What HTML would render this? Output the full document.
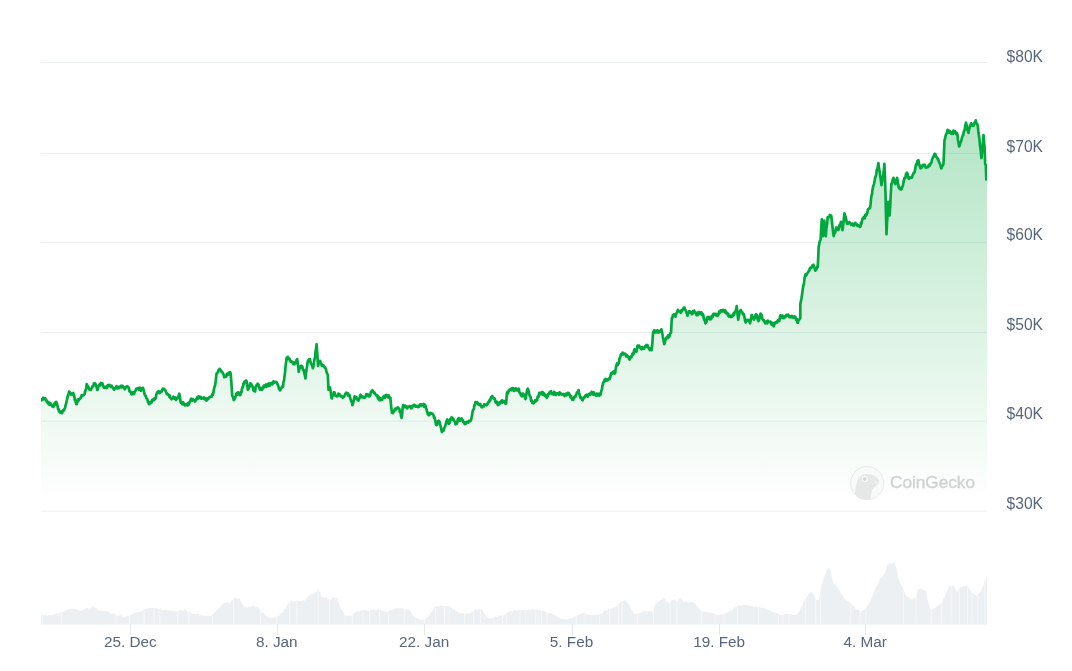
<!DOCTYPE html>
<html><head><meta charset="utf-8">
<style>
html,body{margin:0;padding:0;background:#fff;}
body{width:1072px;height:671px;overflow:hidden;position:relative;}
svg{position:absolute;left:0;top:0;}
text{font-family:"Liberation Sans",sans-serif;}
</style></head><body>
<svg width="1072" height="671" viewBox="0 0 1072 671">
<defs>
<linearGradient id="g" x1="0" y1="120" x2="0" y2="503" gradientUnits="userSpaceOnUse">
<stop offset="0" stop-color="#00a83e" stop-opacity="0.3"/>
<stop offset="1" stop-color="#00a83e" stop-opacity="0.0"/>
</linearGradient>
</defs>
<rect width="1072" height="671" fill="#fff"/>
<rect x="41" y="62" width="946" height="1" fill="#eceff2"/>
<rect x="41" y="153" width="946" height="1" fill="#eceff2"/>
<rect x="41" y="242" width="946" height="1" fill="#eceff2"/>
<rect x="41" y="332" width="946" height="1" fill="#eceff2"/>
<rect x="41" y="420.7" width="946" height="1" fill="#eceff2"/>
<rect x="41" y="510.6" width="946" height="1" fill="#eceff2"/>
<clipPath id="vc"><path d="M41,624 L41.2,614.5 L42.2,614.6 L43.2,614.9 L44.2,615.6 L45.2,615 L46.2,615.3 L47.2,615.4 L48.3,615.4 L49.3,614.6 L50.4,615 L51.5,615.1 L52.6,615.2 L53.6,614 L54.7,614.5 L55.8,613.8 L56.9,613.1 L58.1,613.9 L59.2,613.3 L60.3,612.6 L61.4,611.3 L62.5,612.3 L63.7,611.7 L64.8,610.7 L65.9,609.9 L67,609.9 L68,609.1 L69.1,608.7 L70.1,609.4 L71.2,608.5 L72.2,608.5 L73.3,608.9 L74.4,608.8 L75.4,608.7 L76.5,609.7 L77.6,609.9 L78.7,610.8 L79.7,610.6 L80.8,610.8 L81.9,610.5 L83,609.7 L84.2,609.4 L85.3,608.5 L86.4,608 L87.5,607.5 L88.5,608.5 L89.6,608.4 L90.6,608 L91.7,607.7 L92.7,606.9 L93.8,607.1 L94.9,607.4 L96,608.2 L97.2,608.6 L98.3,610.5 L99.4,610.8 L100.5,610.6 L101.6,611.4 L102.8,610.6 L103.9,611.5 L105,610.8 L106.1,611.8 L107.1,610.8 L108.2,611.5 L109.3,613.1 L110.4,612.8 L111.4,614 L112.5,613.6 L113.7,614 L115,614.1 L116.2,615.4 L117.3,615.7 L118.3,616.1 L119.4,615.5 L120.5,615.3 L121.6,615.8 L122.6,617 L123.7,616.4 L124.8,616.8 L125.9,615.8 L127.1,616 L128.2,615.8 L129.3,616.4 L130.5,614.8 L131.8,615 L133,613.6 L134.1,612.8 L135.1,613.2 L136.2,612.7 L137.3,612 L138.4,612.6 L139.4,611.4 L140.5,611.7 L141.6,611.4 L142.6,610 L143.7,610 L144.7,609.1 L145.8,608.7 L146.8,609.3 L147.9,608 L149,608.5 L150,607.7 L151.1,608.6 L152.2,607.5 L153.3,607.8 L154.3,608.6 L155.4,608 L156.5,608.5 L157.5,607.9 L158.6,609.6 L159.7,608.6 L160.8,609 L161.8,610.1 L162.9,609.9 L164,609.8 L165,609.8 L166.1,609.6 L167.1,609.8 L168.2,610.7 L169.2,610.3 L170.3,610.8 L171.4,611 L172.4,610.6 L173.5,610.7 L174.6,611.5 L175.7,610.8 L176.7,610.9 L177.8,610.8 L178.9,611.3 L179.9,610 L181,609.9 L182.1,610.9 L183.2,610.7 L184.2,609.6 L185.3,609.9 L186.4,609.9 L187.5,611.4 L188.7,612.2 L189.8,611.6 L190.9,612.6 L192,613.7 L193.1,614 L194.2,613.9 L195.3,614 L196.4,614.5 L197.5,614 L198.5,614 L199.6,615.6 L200.7,614.6 L201.8,615.5 L202.8,614.9 L203.9,615.4 L205,616.1 L206,615.8 L207.1,615.5 L208.2,615.5 L209.3,616.5 L210.3,615.6 L211.4,616.4 L212.6,614.4 L213.9,613.4 L215.1,611.7 L216.2,611.1 L217.3,609.6 L218.5,608 L219.6,607.9 L220.7,606.1 L221.9,604.7 L223.1,603.5 L224.2,603 L225.4,602.4 L226.6,602.6 L227.7,602.3 L228.8,602.8 L230,603.6 L231.2,601.5 L232.5,600 L233.7,598 L234.8,597.4 L235.9,597.8 L237.1,598.6 L238.2,598.8 L239.3,598 L240.6,600.7 L241.8,603.2 L243.1,605.4 L244.3,606.5 L245.6,606.7 L246.8,608.2 L247.9,606.9 L249,606.3 L250.2,607.2 L251.3,606.3 L252.4,605.4 L253.5,606.5 L254.6,605.4 L255.8,606.8 L256.9,606.9 L258,607.3 L259.1,609.1 L260.3,609.8 L261.5,612.3 L262.6,612.9 L263.8,613.1 L265,614.8 L266.1,616.1 L267.3,616.6 L268.4,617.4 L269.5,617.4 L270.7,617.5 L271.8,617.9 L272.9,617.6 L274,617.9 L275.1,616.6 L276.3,616.8 L277.4,616.7 L278.5,615.7 L279.6,615.2 L280.7,613.3 L281.9,612.8 L283,611.8 L284.1,610.1 L285.2,608.4 L286.3,606.6 L287.5,604.3 L288.6,602.8 L289.7,600.8 L290.8,601 L291.8,600.1 L292.9,601 L294,601.6 L295.1,601.4 L296.1,601.2 L297.2,600.8 L298.3,600.6 L299.3,601.2 L300.4,600.9 L301.4,600.7 L302.5,601.3 L303.5,600.1 L304.6,600.8 L305.8,599.8 L307,597.2 L308.1,596.8 L309.3,595.2 L310.4,594.8 L311.5,594 L312.7,594.4 L313.8,593.7 L314.9,593.3 L316.1,591.9 L317.4,590.9 L318.6,588.7 L320,592.5 L321.4,597 L322.5,596.4 L323.6,597.1 L324.8,597.9 L325.9,597.3 L327,598 L328.4,598.9 L329.8,600.8 L331.2,599.5 L332.6,597 L333.8,597.5 L335,597.4 L336.1,598.4 L337.3,598 L338.5,601.5 L339.8,605.7 L341,609.2 L342.2,610.6 L343.5,612.8 L344.7,614.8 L345.8,615.4 L346.9,615.8 L348,615.9 L349.1,615.2 L350.2,615.7 L351.3,615.7 L352.4,614.5 L353.5,613.2 L354.7,612.9 L355.8,612.5 L356.9,611 L358,611.4 L359.1,611 L360.3,611.2 L361.4,609.9 L362.5,610.1 L363.6,609.8 L364.7,610.4 L365.9,610.3 L367,610.4 L368.1,611 L369.2,610.5 L370.3,610.5 L371.5,609.9 L372.6,609.3 L373.7,609.2 L374.8,609.9 L375.9,610.3 L377.1,609.7 L378.2,609.2 L379.3,610.1 L380.4,609.6 L381.4,611.2 L382.5,610.2 L383.5,611.5 L384.6,611.6 L385.6,611.4 L386.7,612 L387.8,612.1 L388.8,610.4 L389.9,610.2 L391,610.3 L392.1,609.2 L393.1,610.1 L394.2,609.2 L395.3,608.6 L396.3,608.3 L397.4,608 L398.4,608.8 L399.5,608.4 L400.5,608.6 L401.6,608.2 L402.7,608.7 L403.7,609.2 L404.8,609.7 L405.9,609.6 L407,609.1 L408,609.8 L409.1,610.1 L410.2,611.1 L411.3,612.3 L412.5,614.6 L413.6,616.4 L414.7,617.6 L415.8,617.4 L416.9,618 L418.1,618.4 L419.2,619.4 L420.3,619.4 L421.5,619.4 L422.6,619.6 L423.8,619.8 L425,619.4 L426.1,618.1 L427.3,617.6 L428.5,616.6 L429.6,614.8 L430.7,612.5 L431.8,612.1 L433,610.1 L434.1,607.5 L435.2,606.4 L436.3,606.1 L437.4,606.2 L438.6,606.5 L439.7,605.4 L440.8,605.4 L441.8,605.6 L442.9,606.2 L443.9,606.2 L444.9,606.6 L446,605.9 L447,606.3 L448,605.7 L449.1,606.6 L450.1,606.4 L451.2,607.8 L452.3,608.5 L453.5,609.5 L454.6,609.6 L455.7,611 L456.8,612 L457.9,612.5 L459.1,612.9 L460.2,612.6 L461.3,612.9 L462.4,613.5 L463.4,612.9 L464.5,613.9 L465.6,614 L466.7,613.3 L467.7,613 L468.8,613.8 L469.9,613 L471,612.4 L472.2,612 L473.3,610.8 L474.4,610.1 L475.5,609.2 L476.5,610.3 L477.6,609 L478.6,610.1 L479.7,608.9 L480.7,609.1 L481.8,609.2 L483.1,611.8 L484.3,613 L485.6,615.7 L486.8,616.1 L488.1,617.6 L489.3,618.5 L490.4,618.5 L491.5,618.3 L492.7,617.7 L493.8,617.7 L494.9,616.6 L496,616.5 L497,617.1 L498.1,615.6 L499.2,615.6 L500.3,616 L501.3,615.5 L502.4,615.7 L503.5,615.3 L504.6,614.4 L505.8,613.5 L506.9,613.3 L508,612 L509.1,611.8 L510.1,611.2 L511.2,611 L512.2,611.5 L513.3,611.3 L514.3,609.9 L515.4,610.1 L516.4,610.7 L517.5,610.8 L518.5,610.1 L519.5,610.2 L520.6,609.6 L521.6,610.2 L522.6,610.1 L523.7,610.3 L524.7,610.1 L525.8,609.2 L526.8,610.6 L527.9,609.7 L529,609.4 L530.1,609.9 L531.1,609.4 L532.2,609.2 L533.3,609.3 L534.3,609.8 L535.4,608.9 L536.5,609.8 L537.6,609.7 L538.6,610.7 L539.7,610.1 L540.8,611 L541.8,610.3 L542.9,610.9 L543.9,610.6 L545,611.4 L546,612.2 L547.1,612 L548.2,613 L549.2,612.8 L550.3,612.9 L551.4,613.1 L552.5,614.2 L553.5,615.1 L554.6,614.8 L555.7,614.9 L556.8,616.7 L558,616.3 L559.1,617.3 L560.2,618.5 L561.3,618.2 L562.4,619.2 L563.6,618.8 L564.7,619 L565.8,619.4 L566.9,619.4 L568,618.4 L569.2,619.2 L570.3,618.1 L571.4,618.5 L572.5,618 L573.6,617 L574.8,616.3 L575.9,616.3 L577,615.7 L578.1,615 L579.2,614.4 L580.4,613.9 L581.5,613.5 L582.6,612.9 L583.7,612.7 L584.8,613.2 L586,614.3 L587.1,614.6 L588.2,614.8 L589.3,614.8 L590.3,615.4 L591.4,615 L592.4,615.4 L593.5,614.4 L594.5,615.2 L595.6,614.8 L596.7,615.1 L597.8,615 L599,613.9 L600.1,613.7 L601.2,613.8 L602.5,613.2 L603.7,610.9 L605,610.1 L606.1,610.7 L607.2,610.4 L608.4,609 L609.5,609 L610.6,609.2 L611.7,609 L612.8,607.7 L614,606.9 L615.1,607.5 L616.2,606.4 L617.5,605.1 L618.7,604.5 L620,602.9 L621.2,601.6 L622.4,601.3 L623.5,601.1 L624.7,600.1 L625.9,600.5 L627,602 L628.1,603.9 L629.3,604.8 L630.5,607.8 L631.6,610.2 L632.8,611.2 L634,614.1 L635.2,613.9 L636.4,614.1 L637.5,613.4 L638.7,613.2 L639.8,613.1 L640.9,611.9 L642.1,611.4 L643.2,611 L644.3,611.3 L645.4,610.6 L646.5,611.4 L647.7,611.3 L648.8,611.4 L649.9,611.3 L651.2,611.2 L652.6,612.2 L654,607.5 L655.4,603.8 L656.6,602.4 L657.8,602.5 L658.9,601.8 L660.1,600.1 L661.3,600.1 L662.6,598.2 L663.8,598.2 L665,598.7 L666.1,601.3 L667.3,601.7 L668.5,602.9 L669.6,602.6 L670.7,601.1 L671.9,600.6 L673,600 L674.1,599.2 L675.5,600.5 L676.9,602 L678.1,600.9 L679.4,598.7 L680.6,598.2 L681.9,599.8 L683.1,601.3 L684.4,602 L685.5,601.5 L686.6,601.9 L687.8,602.4 L688.9,601.8 L690,602 L691.1,601.9 L692.2,602.2 L693.4,603.1 L694.5,602.7 L695.6,603.8 L696.8,606 L698.1,607.4 L699.3,608.5 L700.5,609.8 L701.8,610.9 L703,611.3 L704.1,611.7 L705.2,611.4 L706.3,611.9 L707.4,611.9 L708.5,612.8 L709.6,612.2 L710.8,612.9 L711.9,612.3 L713.1,613.6 L714.2,613.2 L715.5,614.2 L716.7,614.8 L718,615 L719.1,615.2 L720.2,614.2 L721.2,614.7 L722.3,614.4 L723.4,613.8 L724.5,613.2 L725.6,613.2 L726.6,612.8 L727.7,611.8 L728.7,612 L729.8,610.5 L730.8,610.5 L731.9,610.4 L733,609.4 L734.1,607.7 L735.3,607.3 L736.4,606.9 L737.5,605.7 L738.6,605.8 L739.6,605 L740.7,606 L741.8,605.5 L742.9,604.8 L743.9,605.2 L745,604.8 L746.1,605 L747.1,605.1 L748.2,605 L749.3,606.1 L750.4,605.7 L751.4,605.9 L752.5,605.7 L753.6,606.4 L754.6,607 L755.7,605.8 L756.7,607 L757.8,607.4 L758.8,606.9 L759.9,607.6 L761,607.7 L762,607.4 L763.1,607.9 L764.2,608.4 L765.3,608.2 L766.3,608.7 L767.4,609.4 L768.5,610.4 L769.5,610.3 L770.6,610.6 L771.7,611.7 L772.8,611.5 L773.8,612.6 L774.9,612.2 L776,613 L777.1,613.8 L778.2,613.2 L779.3,614.6 L780.4,615 L781.5,615.3 L782.5,614 L783.6,615.3 L784.7,613.9 L785.8,614.3 L786.8,613.7 L787.9,614.1 L789,614.2 L790,614.5 L791.1,613.8 L792.2,615.3 L793.3,614.6 L794.3,614.9 L795.4,615 L796.6,614.2 L797.9,612.9 L799.1,612.2 L800.3,609.1 L801.6,606.8 L802.8,603.8 L804.1,601.7 L805.3,599.1 L806.6,597.3 L807.8,595.8 L809.1,593.2 L810.3,591.7 L811.5,591.8 L812.7,593.4 L813.9,595.4 L815,597.4 L816.2,600.5 L817.5,599.5 L818.9,599.6 L820.2,592.9 L821.5,585.4 L822.9,580.8 L824.2,576.6 L825.4,574.3 L826.5,571.1 L827.7,567.7 L829,568.3 L830.4,570.4 L831.7,576.9 L833,581.9 L834.2,584.1 L835.4,584.2 L836.6,586.3 L837.7,588.5 L838.7,589.4 L839.8,591.1 L840.8,593.5 L841.9,594.3 L843.1,595.7 L844.2,597.9 L845.4,599.6 L846.5,600.8 L847.6,601 L848.6,601.2 L849.7,602.5 L850.8,602.3 L851.9,604.4 L853,605.6 L854.1,606.3 L855.2,608.5 L856.3,609.4 L857.3,609.8 L858.4,610.1 L859.4,610.6 L860.5,612 L861.6,611.4 L862.7,610.1 L863.8,610 L864.9,609.4 L866,608.1 L867.1,606.1 L868.1,604.2 L869.2,603.1 L870.3,601.4 L871.4,598.4 L872.4,596.2 L873.5,592.9 L874.5,590.8 L875.6,587.2 L876.7,586 L877.7,583.7 L878.8,581 L879.8,578.8 L880.9,577.5 L882,576.8 L883.1,575.3 L884.2,573.7 L885.3,572.2 L886.6,567.5 L888,563.3 L889.2,563.2 L890.3,564.2 L891.5,564.2 L892.9,563 L894.2,561.5 L895.5,565.6 L896.8,569.5 L898.6,579.2 L899.8,581.8 L901,584.3 L902.2,586.3 L903.4,588.8 L904.5,591.8 L905.7,595.2 L906.9,596.6 L908.1,597.1 L909.3,597 L910.6,598.9 L911.9,599.6 L913.1,598.3 L914.3,597.8 L915.5,597.9 L916.8,593.1 L918.1,589 L919.3,588.9 L920.5,589.2 L921.7,589 L922.8,589 L923.9,590.4 L925,590.3 L926.1,591.7 L927.9,601.4 L929.2,605.2 L930.5,610.3 L931.6,610 L932.6,609.3 L933.7,608.9 L934.7,607.9 L935.8,607.6 L936.9,606.7 L938,605.4 L939,604.7 L940.1,604.5 L941.2,603.2 L942.4,601.7 L943.5,598.4 L944.7,597 L945.8,593.7 L946.9,592.1 L948,589.2 L949.1,586.3 L950.2,586.5 L951.4,585.4 L952.5,585.5 L953.6,585.4 L954.8,587.1 L955.9,590.1 L957.1,591.7 L958.5,589.2 L959.8,587.2 L960.9,587.2 L962,587.5 L963.1,586.2 L964.2,586.3 L965.4,586.1 L966.5,586.1 L967.7,585.4 L968.9,588.4 L970.1,590 L971.3,592.5 L972.4,593 L973.4,593.3 L974.5,595.3 L975.5,594.7 L976.6,596.1 L977.8,594.2 L979,593.8 L980.2,592.5 L981.4,589.8 L982.5,587.5 L983.7,584.6 L984.8,581 L985.8,578.5 L986.9,574.8 L987,624 Z"/></clipPath>
<path d="M41,624 L41.2,614.5 L42.2,614.6 L43.2,614.9 L44.2,615.6 L45.2,615 L46.2,615.3 L47.2,615.4 L48.3,615.4 L49.3,614.6 L50.4,615 L51.5,615.1 L52.6,615.2 L53.6,614 L54.7,614.5 L55.8,613.8 L56.9,613.1 L58.1,613.9 L59.2,613.3 L60.3,612.6 L61.4,611.3 L62.5,612.3 L63.7,611.7 L64.8,610.7 L65.9,609.9 L67,609.9 L68,609.1 L69.1,608.7 L70.1,609.4 L71.2,608.5 L72.2,608.5 L73.3,608.9 L74.4,608.8 L75.4,608.7 L76.5,609.7 L77.6,609.9 L78.7,610.8 L79.7,610.6 L80.8,610.8 L81.9,610.5 L83,609.7 L84.2,609.4 L85.3,608.5 L86.4,608 L87.5,607.5 L88.5,608.5 L89.6,608.4 L90.6,608 L91.7,607.7 L92.7,606.9 L93.8,607.1 L94.9,607.4 L96,608.2 L97.2,608.6 L98.3,610.5 L99.4,610.8 L100.5,610.6 L101.6,611.4 L102.8,610.6 L103.9,611.5 L105,610.8 L106.1,611.8 L107.1,610.8 L108.2,611.5 L109.3,613.1 L110.4,612.8 L111.4,614 L112.5,613.6 L113.7,614 L115,614.1 L116.2,615.4 L117.3,615.7 L118.3,616.1 L119.4,615.5 L120.5,615.3 L121.6,615.8 L122.6,617 L123.7,616.4 L124.8,616.8 L125.9,615.8 L127.1,616 L128.2,615.8 L129.3,616.4 L130.5,614.8 L131.8,615 L133,613.6 L134.1,612.8 L135.1,613.2 L136.2,612.7 L137.3,612 L138.4,612.6 L139.4,611.4 L140.5,611.7 L141.6,611.4 L142.6,610 L143.7,610 L144.7,609.1 L145.8,608.7 L146.8,609.3 L147.9,608 L149,608.5 L150,607.7 L151.1,608.6 L152.2,607.5 L153.3,607.8 L154.3,608.6 L155.4,608 L156.5,608.5 L157.5,607.9 L158.6,609.6 L159.7,608.6 L160.8,609 L161.8,610.1 L162.9,609.9 L164,609.8 L165,609.8 L166.1,609.6 L167.1,609.8 L168.2,610.7 L169.2,610.3 L170.3,610.8 L171.4,611 L172.4,610.6 L173.5,610.7 L174.6,611.5 L175.7,610.8 L176.7,610.9 L177.8,610.8 L178.9,611.3 L179.9,610 L181,609.9 L182.1,610.9 L183.2,610.7 L184.2,609.6 L185.3,609.9 L186.4,609.9 L187.5,611.4 L188.7,612.2 L189.8,611.6 L190.9,612.6 L192,613.7 L193.1,614 L194.2,613.9 L195.3,614 L196.4,614.5 L197.5,614 L198.5,614 L199.6,615.6 L200.7,614.6 L201.8,615.5 L202.8,614.9 L203.9,615.4 L205,616.1 L206,615.8 L207.1,615.5 L208.2,615.5 L209.3,616.5 L210.3,615.6 L211.4,616.4 L212.6,614.4 L213.9,613.4 L215.1,611.7 L216.2,611.1 L217.3,609.6 L218.5,608 L219.6,607.9 L220.7,606.1 L221.9,604.7 L223.1,603.5 L224.2,603 L225.4,602.4 L226.6,602.6 L227.7,602.3 L228.8,602.8 L230,603.6 L231.2,601.5 L232.5,600 L233.7,598 L234.8,597.4 L235.9,597.8 L237.1,598.6 L238.2,598.8 L239.3,598 L240.6,600.7 L241.8,603.2 L243.1,605.4 L244.3,606.5 L245.6,606.7 L246.8,608.2 L247.9,606.9 L249,606.3 L250.2,607.2 L251.3,606.3 L252.4,605.4 L253.5,606.5 L254.6,605.4 L255.8,606.8 L256.9,606.9 L258,607.3 L259.1,609.1 L260.3,609.8 L261.5,612.3 L262.6,612.9 L263.8,613.1 L265,614.8 L266.1,616.1 L267.3,616.6 L268.4,617.4 L269.5,617.4 L270.7,617.5 L271.8,617.9 L272.9,617.6 L274,617.9 L275.1,616.6 L276.3,616.8 L277.4,616.7 L278.5,615.7 L279.6,615.2 L280.7,613.3 L281.9,612.8 L283,611.8 L284.1,610.1 L285.2,608.4 L286.3,606.6 L287.5,604.3 L288.6,602.8 L289.7,600.8 L290.8,601 L291.8,600.1 L292.9,601 L294,601.6 L295.1,601.4 L296.1,601.2 L297.2,600.8 L298.3,600.6 L299.3,601.2 L300.4,600.9 L301.4,600.7 L302.5,601.3 L303.5,600.1 L304.6,600.8 L305.8,599.8 L307,597.2 L308.1,596.8 L309.3,595.2 L310.4,594.8 L311.5,594 L312.7,594.4 L313.8,593.7 L314.9,593.3 L316.1,591.9 L317.4,590.9 L318.6,588.7 L320,592.5 L321.4,597 L322.5,596.4 L323.6,597.1 L324.8,597.9 L325.9,597.3 L327,598 L328.4,598.9 L329.8,600.8 L331.2,599.5 L332.6,597 L333.8,597.5 L335,597.4 L336.1,598.4 L337.3,598 L338.5,601.5 L339.8,605.7 L341,609.2 L342.2,610.6 L343.5,612.8 L344.7,614.8 L345.8,615.4 L346.9,615.8 L348,615.9 L349.1,615.2 L350.2,615.7 L351.3,615.7 L352.4,614.5 L353.5,613.2 L354.7,612.9 L355.8,612.5 L356.9,611 L358,611.4 L359.1,611 L360.3,611.2 L361.4,609.9 L362.5,610.1 L363.6,609.8 L364.7,610.4 L365.9,610.3 L367,610.4 L368.1,611 L369.2,610.5 L370.3,610.5 L371.5,609.9 L372.6,609.3 L373.7,609.2 L374.8,609.9 L375.9,610.3 L377.1,609.7 L378.2,609.2 L379.3,610.1 L380.4,609.6 L381.4,611.2 L382.5,610.2 L383.5,611.5 L384.6,611.6 L385.6,611.4 L386.7,612 L387.8,612.1 L388.8,610.4 L389.9,610.2 L391,610.3 L392.1,609.2 L393.1,610.1 L394.2,609.2 L395.3,608.6 L396.3,608.3 L397.4,608 L398.4,608.8 L399.5,608.4 L400.5,608.6 L401.6,608.2 L402.7,608.7 L403.7,609.2 L404.8,609.7 L405.9,609.6 L407,609.1 L408,609.8 L409.1,610.1 L410.2,611.1 L411.3,612.3 L412.5,614.6 L413.6,616.4 L414.7,617.6 L415.8,617.4 L416.9,618 L418.1,618.4 L419.2,619.4 L420.3,619.4 L421.5,619.4 L422.6,619.6 L423.8,619.8 L425,619.4 L426.1,618.1 L427.3,617.6 L428.5,616.6 L429.6,614.8 L430.7,612.5 L431.8,612.1 L433,610.1 L434.1,607.5 L435.2,606.4 L436.3,606.1 L437.4,606.2 L438.6,606.5 L439.7,605.4 L440.8,605.4 L441.8,605.6 L442.9,606.2 L443.9,606.2 L444.9,606.6 L446,605.9 L447,606.3 L448,605.7 L449.1,606.6 L450.1,606.4 L451.2,607.8 L452.3,608.5 L453.5,609.5 L454.6,609.6 L455.7,611 L456.8,612 L457.9,612.5 L459.1,612.9 L460.2,612.6 L461.3,612.9 L462.4,613.5 L463.4,612.9 L464.5,613.9 L465.6,614 L466.7,613.3 L467.7,613 L468.8,613.8 L469.9,613 L471,612.4 L472.2,612 L473.3,610.8 L474.4,610.1 L475.5,609.2 L476.5,610.3 L477.6,609 L478.6,610.1 L479.7,608.9 L480.7,609.1 L481.8,609.2 L483.1,611.8 L484.3,613 L485.6,615.7 L486.8,616.1 L488.1,617.6 L489.3,618.5 L490.4,618.5 L491.5,618.3 L492.7,617.7 L493.8,617.7 L494.9,616.6 L496,616.5 L497,617.1 L498.1,615.6 L499.2,615.6 L500.3,616 L501.3,615.5 L502.4,615.7 L503.5,615.3 L504.6,614.4 L505.8,613.5 L506.9,613.3 L508,612 L509.1,611.8 L510.1,611.2 L511.2,611 L512.2,611.5 L513.3,611.3 L514.3,609.9 L515.4,610.1 L516.4,610.7 L517.5,610.8 L518.5,610.1 L519.5,610.2 L520.6,609.6 L521.6,610.2 L522.6,610.1 L523.7,610.3 L524.7,610.1 L525.8,609.2 L526.8,610.6 L527.9,609.7 L529,609.4 L530.1,609.9 L531.1,609.4 L532.2,609.2 L533.3,609.3 L534.3,609.8 L535.4,608.9 L536.5,609.8 L537.6,609.7 L538.6,610.7 L539.7,610.1 L540.8,611 L541.8,610.3 L542.9,610.9 L543.9,610.6 L545,611.4 L546,612.2 L547.1,612 L548.2,613 L549.2,612.8 L550.3,612.9 L551.4,613.1 L552.5,614.2 L553.5,615.1 L554.6,614.8 L555.7,614.9 L556.8,616.7 L558,616.3 L559.1,617.3 L560.2,618.5 L561.3,618.2 L562.4,619.2 L563.6,618.8 L564.7,619 L565.8,619.4 L566.9,619.4 L568,618.4 L569.2,619.2 L570.3,618.1 L571.4,618.5 L572.5,618 L573.6,617 L574.8,616.3 L575.9,616.3 L577,615.7 L578.1,615 L579.2,614.4 L580.4,613.9 L581.5,613.5 L582.6,612.9 L583.7,612.7 L584.8,613.2 L586,614.3 L587.1,614.6 L588.2,614.8 L589.3,614.8 L590.3,615.4 L591.4,615 L592.4,615.4 L593.5,614.4 L594.5,615.2 L595.6,614.8 L596.7,615.1 L597.8,615 L599,613.9 L600.1,613.7 L601.2,613.8 L602.5,613.2 L603.7,610.9 L605,610.1 L606.1,610.7 L607.2,610.4 L608.4,609 L609.5,609 L610.6,609.2 L611.7,609 L612.8,607.7 L614,606.9 L615.1,607.5 L616.2,606.4 L617.5,605.1 L618.7,604.5 L620,602.9 L621.2,601.6 L622.4,601.3 L623.5,601.1 L624.7,600.1 L625.9,600.5 L627,602 L628.1,603.9 L629.3,604.8 L630.5,607.8 L631.6,610.2 L632.8,611.2 L634,614.1 L635.2,613.9 L636.4,614.1 L637.5,613.4 L638.7,613.2 L639.8,613.1 L640.9,611.9 L642.1,611.4 L643.2,611 L644.3,611.3 L645.4,610.6 L646.5,611.4 L647.7,611.3 L648.8,611.4 L649.9,611.3 L651.2,611.2 L652.6,612.2 L654,607.5 L655.4,603.8 L656.6,602.4 L657.8,602.5 L658.9,601.8 L660.1,600.1 L661.3,600.1 L662.6,598.2 L663.8,598.2 L665,598.7 L666.1,601.3 L667.3,601.7 L668.5,602.9 L669.6,602.6 L670.7,601.1 L671.9,600.6 L673,600 L674.1,599.2 L675.5,600.5 L676.9,602 L678.1,600.9 L679.4,598.7 L680.6,598.2 L681.9,599.8 L683.1,601.3 L684.4,602 L685.5,601.5 L686.6,601.9 L687.8,602.4 L688.9,601.8 L690,602 L691.1,601.9 L692.2,602.2 L693.4,603.1 L694.5,602.7 L695.6,603.8 L696.8,606 L698.1,607.4 L699.3,608.5 L700.5,609.8 L701.8,610.9 L703,611.3 L704.1,611.7 L705.2,611.4 L706.3,611.9 L707.4,611.9 L708.5,612.8 L709.6,612.2 L710.8,612.9 L711.9,612.3 L713.1,613.6 L714.2,613.2 L715.5,614.2 L716.7,614.8 L718,615 L719.1,615.2 L720.2,614.2 L721.2,614.7 L722.3,614.4 L723.4,613.8 L724.5,613.2 L725.6,613.2 L726.6,612.8 L727.7,611.8 L728.7,612 L729.8,610.5 L730.8,610.5 L731.9,610.4 L733,609.4 L734.1,607.7 L735.3,607.3 L736.4,606.9 L737.5,605.7 L738.6,605.8 L739.6,605 L740.7,606 L741.8,605.5 L742.9,604.8 L743.9,605.2 L745,604.8 L746.1,605 L747.1,605.1 L748.2,605 L749.3,606.1 L750.4,605.7 L751.4,605.9 L752.5,605.7 L753.6,606.4 L754.6,607 L755.7,605.8 L756.7,607 L757.8,607.4 L758.8,606.9 L759.9,607.6 L761,607.7 L762,607.4 L763.1,607.9 L764.2,608.4 L765.3,608.2 L766.3,608.7 L767.4,609.4 L768.5,610.4 L769.5,610.3 L770.6,610.6 L771.7,611.7 L772.8,611.5 L773.8,612.6 L774.9,612.2 L776,613 L777.1,613.8 L778.2,613.2 L779.3,614.6 L780.4,615 L781.5,615.3 L782.5,614 L783.6,615.3 L784.7,613.9 L785.8,614.3 L786.8,613.7 L787.9,614.1 L789,614.2 L790,614.5 L791.1,613.8 L792.2,615.3 L793.3,614.6 L794.3,614.9 L795.4,615 L796.6,614.2 L797.9,612.9 L799.1,612.2 L800.3,609.1 L801.6,606.8 L802.8,603.8 L804.1,601.7 L805.3,599.1 L806.6,597.3 L807.8,595.8 L809.1,593.2 L810.3,591.7 L811.5,591.8 L812.7,593.4 L813.9,595.4 L815,597.4 L816.2,600.5 L817.5,599.5 L818.9,599.6 L820.2,592.9 L821.5,585.4 L822.9,580.8 L824.2,576.6 L825.4,574.3 L826.5,571.1 L827.7,567.7 L829,568.3 L830.4,570.4 L831.7,576.9 L833,581.9 L834.2,584.1 L835.4,584.2 L836.6,586.3 L837.7,588.5 L838.7,589.4 L839.8,591.1 L840.8,593.5 L841.9,594.3 L843.1,595.7 L844.2,597.9 L845.4,599.6 L846.5,600.8 L847.6,601 L848.6,601.2 L849.7,602.5 L850.8,602.3 L851.9,604.4 L853,605.6 L854.1,606.3 L855.2,608.5 L856.3,609.4 L857.3,609.8 L858.4,610.1 L859.4,610.6 L860.5,612 L861.6,611.4 L862.7,610.1 L863.8,610 L864.9,609.4 L866,608.1 L867.1,606.1 L868.1,604.2 L869.2,603.1 L870.3,601.4 L871.4,598.4 L872.4,596.2 L873.5,592.9 L874.5,590.8 L875.6,587.2 L876.7,586 L877.7,583.7 L878.8,581 L879.8,578.8 L880.9,577.5 L882,576.8 L883.1,575.3 L884.2,573.7 L885.3,572.2 L886.6,567.5 L888,563.3 L889.2,563.2 L890.3,564.2 L891.5,564.2 L892.9,563 L894.2,561.5 L895.5,565.6 L896.8,569.5 L898.6,579.2 L899.8,581.8 L901,584.3 L902.2,586.3 L903.4,588.8 L904.5,591.8 L905.7,595.2 L906.9,596.6 L908.1,597.1 L909.3,597 L910.6,598.9 L911.9,599.6 L913.1,598.3 L914.3,597.8 L915.5,597.9 L916.8,593.1 L918.1,589 L919.3,588.9 L920.5,589.2 L921.7,589 L922.8,589 L923.9,590.4 L925,590.3 L926.1,591.7 L927.9,601.4 L929.2,605.2 L930.5,610.3 L931.6,610 L932.6,609.3 L933.7,608.9 L934.7,607.9 L935.8,607.6 L936.9,606.7 L938,605.4 L939,604.7 L940.1,604.5 L941.2,603.2 L942.4,601.7 L943.5,598.4 L944.7,597 L945.8,593.7 L946.9,592.1 L948,589.2 L949.1,586.3 L950.2,586.5 L951.4,585.4 L952.5,585.5 L953.6,585.4 L954.8,587.1 L955.9,590.1 L957.1,591.7 L958.5,589.2 L959.8,587.2 L960.9,587.2 L962,587.5 L963.1,586.2 L964.2,586.3 L965.4,586.1 L966.5,586.1 L967.7,585.4 L968.9,588.4 L970.1,590 L971.3,592.5 L972.4,593 L973.4,593.3 L974.5,595.3 L975.5,594.7 L976.6,596.1 L977.8,594.2 L979,593.8 L980.2,592.5 L981.4,589.8 L982.5,587.5 L983.7,584.6 L984.8,581 L985.8,578.5 L986.9,574.8 L987,624 Z" fill="#edf0f3"/>
<g clip-path="url(#vc)"><rect x="42.3" y="550" width="0.8" height="74" fill="#fff" opacity="0.55"/><rect x="60.9" y="550" width="0.8" height="74" fill="#fff" opacity="0.55"/><rect x="115.7" y="550" width="0.8" height="74" fill="#fff" opacity="0.55"/><rect x="129.1" y="550" width="0.8" height="74" fill="#fff" opacity="0.55"/><rect x="143.7" y="550" width="0.8" height="74" fill="#fff" opacity="0.55"/><rect x="153.8" y="550" width="0.8" height="74" fill="#fff" opacity="0.55"/><rect x="159.4" y="550" width="0.8" height="74" fill="#fff" opacity="0.55"/><rect x="177.3" y="550" width="0.8" height="74" fill="#fff" opacity="0.55"/><rect x="188.5" y="550" width="0.8" height="74" fill="#fff" opacity="0.55"/><rect x="212.0" y="550" width="0.8" height="74" fill="#fff" opacity="0.55"/><rect x="233.2" y="550" width="0.8" height="74" fill="#fff" opacity="0.55"/><rect x="260.1" y="550" width="0.8" height="74" fill="#fff" opacity="0.55"/><rect x="276.3" y="550" width="0.8" height="74" fill="#fff" opacity="0.55"/><rect x="289.3" y="550" width="0.8" height="74" fill="#fff" opacity="0.55"/><rect x="296.5" y="550" width="0.8" height="74" fill="#fff" opacity="0.55"/><rect x="317.7" y="550" width="0.8" height="74" fill="#fff" opacity="0.55"/><rect x="328.9" y="550" width="0.8" height="74" fill="#fff" opacity="0.55"/><rect x="344.6" y="550" width="0.8" height="74" fill="#fff" opacity="0.55"/><rect x="352.4" y="550" width="0.8" height="74" fill="#fff" opacity="0.55"/><rect x="362.5" y="550" width="0.8" height="74" fill="#fff" opacity="0.55"/><rect x="369.2" y="550" width="0.8" height="74" fill="#fff" opacity="0.55"/><rect x="379.3" y="550" width="0.8" height="74" fill="#fff" opacity="0.55"/><rect x="388.2" y="550" width="0.8" height="74" fill="#fff" opacity="0.55"/><rect x="403.9" y="550" width="0.8" height="74" fill="#fff" opacity="0.55"/><rect x="415.1" y="550" width="0.8" height="74" fill="#fff" opacity="0.55"/><rect x="424.1" y="550" width="0.8" height="74" fill="#fff" opacity="0.55"/><rect x="435.3" y="550" width="0.8" height="74" fill="#fff" opacity="0.55"/><rect x="444.2" y="550" width="0.8" height="74" fill="#fff" opacity="0.55"/><rect x="448.7" y="550" width="0.8" height="74" fill="#fff" opacity="0.55"/><rect x="464.4" y="550" width="0.8" height="74" fill="#fff" opacity="0.55"/><rect x="473.3" y="550" width="0.8" height="74" fill="#fff" opacity="0.55"/><rect x="480.0" y="550" width="0.8" height="74" fill="#fff" opacity="0.55"/><rect x="493.5" y="550" width="0.8" height="74" fill="#fff" opacity="0.55"/><rect x="502.4" y="550" width="0.8" height="74" fill="#fff" opacity="0.55"/><rect x="506.3" y="550" width="0.8" height="74" fill="#fff" opacity="0.55"/><rect x="519.7" y="550" width="0.8" height="74" fill="#fff" opacity="0.55"/><rect x="525.3" y="550" width="0.8" height="74" fill="#fff" opacity="0.55"/><rect x="535.4" y="550" width="0.8" height="74" fill="#fff" opacity="0.55"/><rect x="541.0" y="550" width="0.8" height="74" fill="#fff" opacity="0.55"/><rect x="546.6" y="550" width="0.8" height="74" fill="#fff" opacity="0.55"/><rect x="575.7" y="550" width="0.8" height="74" fill="#fff" opacity="0.55"/><rect x="584.7" y="550" width="0.8" height="74" fill="#fff" opacity="0.55"/><rect x="599.2" y="550" width="0.8" height="74" fill="#fff" opacity="0.55"/><rect x="609.3" y="550" width="0.8" height="74" fill="#fff" opacity="0.55"/><rect x="618.2" y="550" width="0.8" height="74" fill="#fff" opacity="0.55"/><rect x="621.6" y="550" width="0.8" height="74" fill="#fff" opacity="0.55"/><rect x="637.3" y="550" width="0.8" height="74" fill="#fff" opacity="0.55"/><rect x="653.0" y="550" width="0.8" height="74" fill="#fff" opacity="0.55"/><rect x="669.7" y="550" width="0.8" height="74" fill="#fff" opacity="0.55"/><rect x="676.5" y="550" width="0.8" height="74" fill="#fff" opacity="0.55"/><rect x="701.1" y="550" width="0.8" height="74" fill="#fff" opacity="0.55"/><rect x="714.5" y="550" width="0.8" height="74" fill="#fff" opacity="0.55"/><rect x="723.5" y="550" width="0.8" height="74" fill="#fff" opacity="0.55"/><rect x="736.9" y="550" width="0.8" height="74" fill="#fff" opacity="0.55"/><rect x="758.3" y="550" width="0.8" height="74" fill="#fff" opacity="0.55"/><rect x="778.1" y="550" width="0.8" height="74" fill="#fff" opacity="0.55"/><rect x="782.7" y="550" width="0.8" height="74" fill="#fff" opacity="0.55"/><rect x="788.6" y="550" width="0.8" height="74" fill="#fff" opacity="0.55"/><rect x="804.9" y="550" width="0.8" height="74" fill="#fff" opacity="0.55"/><rect x="815.4" y="550" width="0.8" height="74" fill="#fff" opacity="0.55"/><rect x="820.1" y="550" width="0.8" height="74" fill="#fff" opacity="0.55"/><rect x="850.4" y="550" width="0.8" height="74" fill="#fff" opacity="0.55"/><rect x="859.7" y="550" width="0.8" height="74" fill="#fff" opacity="0.55"/><rect x="865.5" y="550" width="0.8" height="74" fill="#fff" opacity="0.55"/><rect x="902.8" y="550" width="0.8" height="74" fill="#fff" opacity="0.55"/><rect x="915.7" y="550" width="0.8" height="74" fill="#fff" opacity="0.55"/><rect x="930.8" y="550" width="0.8" height="74" fill="#fff" opacity="0.55"/><rect x="941.3" y="550" width="0.8" height="74" fill="#fff" opacity="0.55"/><rect x="950.6" y="550" width="0.8" height="74" fill="#fff" opacity="0.55"/><rect x="958.8" y="550" width="0.8" height="74" fill="#fff" opacity="0.55"/><rect x="967.0" y="550" width="0.8" height="74" fill="#fff" opacity="0.55"/><rect x="971.6" y="550" width="0.8" height="74" fill="#fff" opacity="0.55"/><rect x="977.5" y="550" width="0.8" height="74" fill="#fff" opacity="0.55"/><rect x="984.5" y="550" width="0.8" height="74" fill="#fff" opacity="0.55"/></g>
<path d="M41,400.4 L41.2,400.4 L41.7,399.5 L42.2,398.6 L42.7,399.8 L43.2,397.7 L43.7,398.7 L44.2,398.2 L44.7,398.5 L45.3,398.4 L45.8,400.5 L46.3,399.8 L46.8,401.7 L47.4,401.4 L47.9,403.4 L48.4,402.3 L48.9,403.4 L49.4,404.8 L49.9,402.8 L50.4,403.2 L50.9,404.2 L51.4,404.8 L51.9,406 L52.4,405.2 L52.9,404.9 L53.4,406.9 L53.9,405.7 L54.5,403.4 L55,404.9 L55.5,402.2 L56.1,401.9 L56.6,402.4 L57.1,404 L57.6,406.2 L58.1,409.3 L58.6,409 L59.1,411.6 L59.6,412.1 L60.1,412.5 L60.6,412 L61.1,412.7 L61.6,411.5 L62.1,413.1 L62.7,410.7 L63.3,410.1 L63.9,410.5 L64.5,408.7 L65.1,407.9 L65.6,404.9 L66.2,403.3 L66.8,400.5 L67.3,398.2 L67.9,395.4 L68.5,394.6 L69.1,391.5 L69.7,393.1 L70.4,392.7 L71,394.5 L71.6,394.3 L72.2,393.8 L72.7,394.5 L73.3,393 L73.8,395.6 L74.3,396.1 L74.8,400 L75.3,399.3 L75.8,402.1 L76.3,404.2 L76.8,404.1 L77.3,401.4 L77.8,401.6 L78.3,399.4 L78.8,400.4 L79.3,399 L79.9,399 L80.5,397.7 L81,397.8 L81.6,395.4 L82.2,395.2 L82.8,395.6 L83.3,395.1 L83.9,394.9 L84.5,394.5 L85,391.7 L85.6,390.3 L86.2,388 L86.7,384 L87.3,385.2 L87.8,387.1 L88.4,386.7 L89,389.3 L89.6,389.6 L90.2,389.1 L90.7,389.9 L91.3,389.1 L91.9,387.8 L92.4,386.4 L92.9,386 L93.4,386.1 L93.9,383.4 L94.4,383.9 L94.9,383.3 L95.5,384 L96.1,385.5 L96.6,387 L97.2,390 L97.8,389.5 L98.3,386.3 L98.9,385.3 L99.4,384.8 L99.9,384.2 L100.4,385.4 L100.9,382.8 L101.4,383.6 L101.9,383.7 L102.4,383.3 L103,385.6 L103.5,386.5 L104,387.8 L104.6,387.8 L105.1,386.9 L105.6,387 L106.1,386.6 L106.6,387.9 L107.1,387.9 L107.6,385.2 L108.1,385 L108.6,385 L109.1,385.5 L109.6,385 L110.1,386.1 L110.6,386.8 L111.1,386.1 L111.6,385.7 L112.1,387.3 L112.6,387.4 L113.1,388.4 L113.6,388.5 L114.1,389.7 L114.6,388.7 L115.1,388 L115.6,388.2 L116.1,388.2 L116.6,386.2 L117.1,388.5 L117.6,388 L118.1,387 L118.6,388.1 L119.2,387.9 L119.8,386.7 L120.3,386.7 L120.8,385.8 L121.4,387.4 L122,385.7 L122.5,387 L123.1,386.3 L123.7,387.3 L124.2,387.7 L124.8,389.3 L125.3,388.4 L125.8,387.2 L126.3,386.7 L126.8,386.7 L127.3,386.2 L127.8,387 L128.3,387.7 L128.9,387.7 L129.4,391.3 L129.9,391.6 L130.4,391.3 L131,392.7 L131.5,394.5 L132,393.7 L132.5,393.3 L133,392.2 L133.5,394 L134,394.1 L134.5,392.2 L135,391.5 L135.5,390.9 L136,389.1 L136.5,388.5 L137,388.6 L137.5,388.5 L138.1,388 L138.7,389.8 L139.2,388 L139.8,387.7 L140.4,389.3 L140.9,390.7 L141.4,389.4 L141.9,388.2 L142.4,389.4 L142.9,387.9 L143.4,389.3 L143.9,390.9 L144.4,393.7 L144.9,394.8 L145.4,395.8 L145.9,396 L146.4,398.2 L146.9,398.8 L147.4,399.2 L147.9,402 L148.4,402.3 L148.9,404 L149.4,404.2 L149.9,402.9 L150.4,401.9 L150.9,402.9 L151.4,402.7 L151.9,401.5 L152.4,399.7 L152.9,400.5 L153.4,400.4 L153.9,400.1 L154.4,398.4 L154.9,399.2 L155.4,399 L155.9,396.9 L156.5,394.2 L157.1,392.5 L157.6,392.2 L158.1,391.4 L158.6,391.2 L159.1,392.4 L159.6,393.1 L160.1,391.5 L160.6,391.5 L161.2,392.1 L161.7,391.5 L162.2,390.6 L162.8,388.5 L163.3,388.6 L163.8,388.7 L164.3,389.2 L164.8,389.6 L165.3,390.1 L165.8,391.5 L166.3,392.5 L166.8,393.9 L167.3,394.4 L167.8,393.9 L168.3,395 L168.8,395.2 L169.4,396.8 L169.9,395.5 L170.4,397.9 L171,398.2 L171.5,399.3 L172,398.8 L172.5,398.6 L173,397.7 L173.5,396.7 L174,397.5 L174.5,398.6 L175,397.5 L175.5,399.2 L176,399.9 L176.5,398.4 L177,399 L177.6,397.4 L178.2,397.7 L178.7,395.7 L179.3,393.7 L180,397.2 L180.7,402.7 L181.2,401.7 L181.7,401.9 L182.2,404.3 L182.7,404.1 L183.2,402.2 L183.7,403.4 L184.2,404.7 L184.8,405.4 L185.3,404.7 L185.9,404.1 L186.4,405 L187,404 L187.5,405.4 L188,403 L188.6,404.9 L189.1,403 L189.6,401.7 L190.1,401.9 L190.7,399.5 L191.2,398.7 L191.7,400.2 L192.3,400.5 L192.8,399.1 L193.3,399.6 L193.8,400.2 L194.4,400.4 L194.9,401.6 L195.4,401.1 L196,399.4 L196.5,399.1 L197.1,397.5 L197.6,399.1 L198.2,396.7 L198.7,396.4 L199.2,396.5 L199.8,397.1 L200.3,398.3 L200.8,397 L201.3,398.7 L201.9,397.7 L202.4,397.9 L202.9,398.3 L203.5,398.6 L204,397.4 L204.5,399 L205,398.5 L205.6,398.3 L206.1,400.1 L206.6,400.6 L207.2,398.3 L207.7,398.8 L208.3,399.1 L208.8,398.2 L209.4,397.1 L209.9,397.2 L210.5,396.8 L211.1,396.4 L211.6,396.7 L212.2,394.2 L212.8,394.9 L213.4,392.7 L213.9,389.3 L214.5,387 L215.1,385.2 L215.6,382.1 L216.1,377.3 L216.6,373.3 L217.1,372.7 L217.6,372.6 L218.1,372.3 L218.6,370.1 L219.1,369.9 L219.6,368.8 L220.2,369.6 L220.8,370.3 L221.3,371.6 L221.9,371.6 L222.5,372.5 L223.1,373.7 L223.7,374.7 L224.2,377.2 L224.8,377 L225.3,377 L225.8,376.9 L226.3,376.5 L226.8,373.8 L227.3,374.1 L227.8,373.3 L228.4,374.6 L229,374.3 L229.5,372.2 L230.1,372.2 L230.7,373.3 L231.2,380.6 L231.7,387 L232.2,395.7 L232.7,396.4 L233.2,397.4 L233.7,400.1 L234.3,399.3 L234.8,398.4 L235.4,397.4 L236,394.9 L236.5,393.5 L237,394.8 L237.5,394.3 L238,392.4 L238.5,394.2 L239,392.7 L239.7,395.2 L240.4,394.9 L240.9,392.2 L241.4,392.5 L241.9,389 L242.4,387.4 L242.9,387 L243.4,383.7 L243.9,384.2 L244.4,381.7 L244.9,382 L245.4,381.7 L245.9,380.7 L246.4,380.7 L246.9,382.8 L247.4,386.2 L247.9,389.7 L248.4,389.4 L248.9,386.3 L249.4,386.9 L249.9,385.5 L250.4,383.3 L250.9,383.7 L251.4,384.3 L252,386.2 L252.5,387 L253,386.7 L253.5,390.5 L254.1,391 L254.6,391.2 L255.1,391.4 L255.6,387.5 L256.1,386.7 L256.6,384.8 L257.1,385.8 L257.6,383.7 L258.1,384 L258.6,384.6 L259.1,386.5 L259.6,388.9 L260.1,389.7 L260.6,389.7 L261.1,388.6 L261.6,387.8 L262.1,389.7 L262.6,388.3 L263.1,388.2 L263.6,386 L264.1,385.5 L264.6,387 L265.1,386 L265.6,385.6 L266.1,384.4 L266.6,386.8 L267.1,385.7 L267.6,386.1 L268.1,383.8 L268.6,385.9 L269.1,383.4 L269.6,384.5 L270.2,385.3 L270.7,383.8 L271.2,383.2 L271.8,383.5 L272.4,384.3 L272.9,382.1 L273.4,381.4 L274,382.2 L274.5,382.5 L275,381.9 L275.5,381.8 L276,382.2 L276.5,382.1 L277,383.7 L277.5,383.9 L278,385.4 L278.5,386.5 L279,388.9 L279.5,388.7 L280,390.4 L280.5,389.8 L281,388.2 L281.5,388.1 L282,386.5 L282.5,386.6 L283,386.7 L283.5,381.8 L284,380.5 L284.5,376.3 L285.1,371.8 L285.6,366 L286.1,362.2 L286.7,357.6 L287.3,359.1 L287.9,356.8 L288.4,359.2 L289,358.4 L289.6,358.9 L290.1,359.8 L290.6,361.6 L291.2,361.3 L291.7,361.3 L292.3,362 L292.8,362.8 L293.3,364.1 L293.8,362.5 L294.4,364.3 L294.9,363.6 L295.5,363.1 L296,361.8 L296.6,359.9 L297.2,359.1 L297.7,362.9 L298.2,366.2 L298.7,371.8 L299.2,369.2 L299.8,367.5 L300.3,368 L300.9,365.8 L301.4,365.8 L301.9,366.3 L302.4,366.8 L302.9,369.8 L303.4,370.7 L303.9,370.3 L304.4,373.5 L304.9,375.1 L305.4,378.5 L305.9,373.6 L306.5,369.7 L307.1,366.1 L307.6,362.1 L308.2,360.3 L308.8,360.4 L309.3,359.1 L309.9,359.1 L310.5,362.3 L311.1,364.1 L311.6,364.6 L312.2,365.5 L312.8,368.1 L313.4,366.7 L314,361.9 L314.5,359.3 L315.1,356.9 L315.6,351.2 L316.1,348.1 L316.6,344.2 L317.1,351.3 L317.6,358.6 L318.1,365.8 L318.6,363.4 L319.1,362.8 L319.6,361.3 L320.2,360.9 L320.7,362.8 L321.2,363.4 L321.8,365.8 L322.3,365.8 L322.9,365.1 L323.4,365.4 L323.9,366.5 L324.4,366.6 L325,368 L325.5,368.1 L326.1,369.9 L326.6,372.2 L327.2,373.6 L327.8,374.8 L328.5,389.7 L329,389.5 L329.5,389.2 L330,387.3 L330.5,390.5 L331,393.8 L331.5,397.8 L332,398.4 L332.5,395 L333,395.8 L333.5,394.7 L334,392 L334.5,392.5 L335.1,394.5 L335.6,395.6 L336.1,395.7 L336.7,396.3 L337.3,396.4 L337.9,396.1 L338.4,393.5 L339,394 L339.6,394.4 L340.1,394.8 L340.6,396.1 L341.2,396.4 L341.8,396.9 L342.3,396.5 L342.8,397.8 L343.4,397 L344,396.8 L344.5,396.1 L345.1,393.9 L345.7,394 L346.2,392.7 L346.8,393.1 L347.3,393.9 L347.8,393.3 L348.3,395.6 L348.9,394.9 L349.4,394.8 L349.9,396.9 L350.4,398.6 L350.9,400.5 L351.4,401.7 L351.9,402 L352.4,405.2 L352.9,403.9 L353.5,401.5 L354.1,398.5 L354.6,396.3 L355.1,397 L355.7,398 L356.2,396.9 L356.8,399.5 L357.3,398.7 L357.9,398.8 L358.4,400.7 L358.9,398.5 L359.5,398.4 L360.1,395.4 L360.6,394.8 L361.1,396 L361.6,397.2 L362.1,396.3 L362.6,396.4 L363.1,397.2 L363.6,397.8 L364.1,397.9 L364.7,397.7 L365.2,396.9 L365.7,396.5 L366.2,394.4 L366.8,394.2 L367.3,394.8 L367.9,394.4 L368.5,396.3 L369,395.3 L369.6,396.3 L370.2,395.3 L370.8,392.4 L371.3,391.4 L371.9,390.8 L372.5,390.3 L373,391.6 L373.6,392.4 L374.1,393.1 L374.7,392.6 L375.2,394.1 L375.8,394.7 L376.3,395.5 L376.9,396 L377.4,395.5 L377.9,398.4 L378.5,396.8 L379.1,399.7 L379.6,400.2 L380.1,398 L380.7,400 L381.2,399.4 L381.7,400 L382.2,399.9 L382.7,397.8 L383.2,396.8 L383.7,397 L384.2,395.9 L384.8,397.9 L385.3,395.5 L385.9,396.4 L386.4,394.9 L387,395.8 L387.5,395.5 L388.1,397.3 L388.7,395.3 L389.2,397.8 L389.8,397.4 L390.4,397.8 L390.9,403.9 L391.4,408.3 L391.9,412.7 L392.5,411.5 L393,413.1 L393.6,411.5 L394.2,411.2 L394.7,409.3 L395.2,408.7 L395.7,409.7 L396.2,409.1 L396.7,408.1 L397.2,408.2 L397.8,407.3 L398.3,408.1 L398.8,408.2 L399.4,409 L399.9,412.2 L400.5,412 L401.1,416.4 L401.6,417.9 L402.1,414.7 L402.6,408.3 L403.1,405.2 L403.6,406.7 L404.1,406.3 L404.6,407.2 L405.1,405.6 L405.6,406.1 L406.1,406.7 L406.6,406.5 L407.1,408.4 L407.6,407.2 L408.1,406.6 L408.6,406.9 L409.1,406.6 L409.6,406 L410.1,406.2 L410.6,407.5 L411.1,408.2 L411.6,406.3 L412.1,408 L412.6,405.7 L413.1,405.5 L413.6,406 L414.1,404.8 L414.6,405.1 L415.1,405.2 L415.6,406.7 L416.1,406.5 L416.6,406.4 L417.1,405.9 L417.6,406.9 L418.1,407.1 L418.6,406 L419.1,406.6 L419.6,406 L420.2,404.3 L420.7,405.9 L421.2,404.7 L421.8,404.5 L422.3,405.5 L422.9,405.4 L423.4,404.5 L423.9,404 L424.4,406.9 L425,404.7 L425.5,406 L426.1,408 L426.6,409.6 L427.2,411.5 L427.8,414.2 L428.3,414.8 L428.9,415.4 L429.4,413.1 L429.9,414.2 L430.4,413 L431,413.7 L431.5,413.4 L432,413.7 L432.5,413.7 L433,414.3 L433.5,415.1 L434,417.8 L434.5,417.2 L435,419.7 L435.5,421.3 L436,424.6 L436.5,425.2 L437,424.9 L437.5,422.6 L438,421.1 L438.5,420.6 L439,420.9 L439.6,421.9 L440.2,424.9 L440.7,426.4 L441.3,429.1 L441.9,432.1 L442.4,430.5 L442.9,430.6 L443.4,430.7 L443.9,429.4 L444.4,427.5 L444.9,426.9 L445.5,424.8 L446,423.2 L446.6,420.9 L447.2,419.4 L447.7,420.4 L448.2,421.1 L448.7,423.9 L449.3,421.9 L449.9,422.6 L450.4,418.8 L451,418.6 L451.6,417.2 L452.1,418.3 L452.6,419.8 L453.1,418.6 L453.6,419.5 L454.1,420.2 L454.6,421.4 L455.1,422.2 L455.6,424.5 L456.1,423.9 L456.7,423.8 L457.2,422.8 L457.8,419.1 L458.4,419.4 L458.9,418.1 L459.5,420.2 L460.1,420.8 L460.6,419.7 L461.1,420.1 L461.7,418.4 L462.2,419.7 L462.8,420.1 L463.3,422 L463.8,422.3 L464.3,423.1 L464.8,424.1 L465.3,422.5 L465.8,423.9 L466.3,422.2 L466.8,421.9 L467.3,422.5 L467.8,422.4 L468.3,422.7 L468.8,420.9 L469.4,421.4 L469.9,420.9 L470.4,421.1 L471,420.1 L471.6,417.4 L472.1,415.1 L472.7,410.9 L473.3,409.7 L473.9,408.7 L474.4,405.1 L474.9,405.3 L475.5,402.2 L476,403 L476.6,402.3 L477.1,402.1 L477.7,402.8 L478.2,404.3 L478.8,404.8 L479.3,404.5 L479.9,403.9 L480.5,404.4 L481,406.3 L481.6,407.1 L482.2,407.4 L482.7,406.6 L483.3,405.7 L483.8,406.4 L484.4,404.2 L484.9,404.6 L485.5,404.6 L486,404.3 L486.5,405.3 L487,404 L487.5,404.4 L488,402.8 L488.5,401.7 L489,402.1 L489.6,400 L490.1,400.9 L490.6,398.8 L491.2,396.9 L491.7,396.6 L492.2,396 L492.7,397.6 L493.2,398.4 L493.7,397.9 L494.2,398.4 L494.7,398.6 L495.3,400.8 L495.8,402.5 L496.3,401.4 L496.8,401.8 L497.4,403.7 L497.9,405.1 L498.4,404.2 L498.9,404.4 L499.4,402.3 L499.9,403.5 L500.4,402.7 L500.9,401.3 L501.4,401.3 L501.9,400.4 L502.4,402.7 L502.9,400.7 L503.4,402.3 L503.9,401.3 L504.4,401.1 L505,401.6 L505.6,403.8 L506.1,403.6 L506.9,393.1 L507.4,391.9 L508,393.4 L508.6,391.4 L509.1,390 L509.6,389.5 L510.2,389.6 L510.8,389.7 L511.3,388.7 L511.9,390.2 L512.4,388 L513,388.9 L513.5,388.5 L514.1,391 L514.7,388.7 L515.2,388.6 L515.8,390.1 L516.3,388.5 L516.8,389.3 L517.3,390.6 L517.8,390.3 L518.3,389.6 L518.8,388.7 L519.3,391.9 L519.9,393.3 L520.5,393.2 L521,395.4 L521.5,394.3 L522,396.4 L522.5,395.7 L523,393.5 L523.5,395.2 L524,394.6 L524.5,395.7 L525,397.2 L525.5,399.1 L526.1,396 L526.6,392.9 L527.2,389.8 L527.8,388.7 L528.3,389.9 L528.9,392 L529.5,395.6 L530,396.1 L530.5,396.6 L531.1,400.8 L531.7,400.2 L532.2,402.8 L532.7,402.2 L533.3,403.3 L533.8,403.1 L534.4,401.7 L534.9,400.4 L535.5,401.4 L536,401.3 L536.5,399.7 L537.1,400.2 L537.6,396.9 L538.1,396.2 L538.6,396.6 L539.2,392.9 L539.7,393.1 L540.2,392.9 L540.7,394.2 L541.2,394.2 L541.7,392.1 L542.2,392.1 L542.7,392.3 L543.2,395 L543.7,393.1 L544.2,393.9 L544.7,395.1 L545.2,396.1 L545.7,394.9 L546.2,395.2 L546.7,397.8 L547.2,396.9 L547.8,396.1 L548.3,393.9 L548.9,394.2 L549.4,392.4 L549.9,391.9 L550.5,391.9 L551,391.2 L551.5,393.6 L552,394.1 L552.6,393.4 L553.1,393.1 L553.6,394.5 L554.1,391.9 L554.6,392.6 L555.1,393.4 L555.6,394.9 L556.1,395 L556.6,393.4 L557.1,393.1 L557.6,393.9 L558.1,393.6 L558.6,393.6 L559.1,394.8 L559.6,392.4 L560.1,394.1 L560.6,393.1 L561.1,394.1 L561.6,394.6 L562.1,394.7 L562.6,394.4 L563.1,393.9 L563.6,394.1 L564.1,394.5 L564.6,396 L565.1,395.4 L565.6,393.9 L566.1,394 L566.6,395.4 L567.1,393.6 L567.6,392.8 L568.1,393.9 L568.7,392.9 L569.3,394.9 L569.8,394.7 L570.4,397.1 L571,396.1 L571.6,398.2 L572.1,399.5 L572.7,398.2 L573.3,399.9 L573.8,397.8 L574.3,396.9 L574.8,397.2 L575.3,397 L575.8,395.3 L576.3,394.6 L576.8,392.7 L577.4,392.1 L578,391.6 L578.5,390.1 L579,392.6 L579.5,394.8 L580,396.1 L580.5,398.1 L581.1,398.5 L581.7,397.8 L582.2,399.9 L582.7,400.3 L583.2,398 L583.7,398.2 L584.2,397 L584.7,397.4 L585.2,396.1 L585.7,395.1 L586.2,395.1 L586.7,395 L587.2,394.6 L587.7,396.7 L588.2,395.4 L588.7,395.1 L589.2,393.9 L589.7,393.6 L590.2,394.9 L590.7,392.9 L591.2,392.4 L591.7,391.8 L592.3,393.8 L592.8,393.5 L593.3,394.7 L593.8,392.3 L594.4,393.6 L594.9,393.9 L595.4,395.1 L595.9,395.4 L596.4,395.9 L596.9,393.5 L597.4,394.5 L597.9,395.4 L598.4,393.9 L598.9,393.7 L599.4,395.7 L599.9,394.1 L600.4,394.8 L600.9,393.1 L601.4,390.3 L601.9,389.3 L602.4,385.7 L603,384 L603.5,382 L604,382 L604.6,379.7 L605.1,381.2 L605.6,378.8 L606.1,380.3 L606.6,380.5 L607.1,379.4 L607.6,380.4 L608.2,379.7 L608.8,378.6 L609.3,378.5 L609.9,379 L610.6,375.3 L611.3,373 L611.8,373.3 L612.4,373.5 L612.9,372.1 L613.5,371.5 L614,372.5 L614.6,373.5 L615.1,373 L615.6,369.3 L616.1,367 L616.6,364.8 L617.1,363.5 L617.7,364.9 L618.2,363.8 L618.8,363.3 L619.3,359.7 L619.9,357.6 L620.5,356.2 L621,354.3 L621.5,354.3 L622,354.5 L622.5,352.7 L623,352.8 L623.5,354.3 L624,353.6 L624.5,353.7 L625,353.7 L625.5,354.1 L626,356.4 L626.5,354.9 L627,355.8 L627.5,356.5 L628,356.3 L628.5,356.9 L629,358.8 L629.5,359.6 L630,358.6 L630.5,357.5 L631,356.3 L631.5,357.2 L632,355 L632.5,353.7 L633,354.5 L633.5,354 L634,350.9 L634.5,349.4 L635,350.7 L635.6,349.9 L636.2,351.7 L636.7,350.9 L637.5,345.7 L638.1,346 L638.7,345.6 L639.2,345.6 L639.8,347.6 L640.4,347.9 L640.9,348.4 L641.5,349.4 L642,347 L642.6,348.7 L643.1,348.1 L643.7,348.6 L644.2,348.7 L644.8,346.7 L645.3,346.1 L645.9,345.9 L646.4,344.9 L647,346.9 L647.5,345.2 L648.1,347.1 L648.7,347.9 L649.3,349.3 L649.9,350.2 L650.4,348.3 L651,348.5 L651.6,350.1 L652.1,345.5 L652.6,339.6 L653.1,332.2 L653.6,331.9 L654.1,330.4 L654.6,332.7 L655.1,330.9 L655.6,332.2 L656.1,330.7 L656.6,331.3 L657.1,332.2 L657.6,330.4 L658.1,332.6 L658.6,331.1 L659.1,332.2 L659.6,331.2 L660.2,331.8 L660.8,331 L661.3,329.3 L661.8,330.8 L662.3,333.4 L662.8,336.7 L663.3,338.9 L663.8,341.8 L664.3,344.2 L664.9,342.2 L665.5,339.7 L666,338.4 L666.6,337.5 L667.1,337.9 L667.6,338.2 L668.1,335.4 L668.6,336.7 L669.1,337 L669.6,336 L670.3,333.1 L671,333 L671.8,318.1 L672.3,318.2 L672.9,315.1 L673.5,315.5 L674,314.3 L674.5,315.2 L675,316.2 L675.5,316.6 L676.1,314.3 L676.6,313 L677.2,311.8 L677.8,309.9 L678.4,310.3 L679,311.5 L679.5,311.5 L680.1,312 L680.7,312.8 L681.3,310.4 L681.9,311.3 L682.4,310 L683,309.1 L683.5,307.8 L684,308.9 L684.5,307.6 L685,309.8 L685.5,310.2 L686,310.7 L686.5,313 L687,313.3 L687.5,315.8 L688,313.6 L688.6,313.3 L689.2,311.2 L689.7,311.3 L690.2,311.9 L690.8,312.8 L691.4,312.2 L691.9,314.3 L692.5,313.8 L693,311.2 L693.6,312.2 L694.2,310.6 L694.8,312.6 L695.3,312.9 L695.9,312.6 L696.4,315.1 L696.9,314.6 L697.4,313.7 L697.9,315 L698.4,312 L698.9,313.7 L699.4,312.1 L699.9,313.9 L700.5,313.4 L701,314 L701.5,312.4 L702,315.1 L702.6,314 L703.1,314.3 L703.7,317.9 L704.2,320 L704.8,320 L705.4,323.3 L706,322.7 L706.5,321.6 L707,317.5 L707.6,317.3 L708.1,317.1 L708.6,318.6 L709.1,317 L709.6,319.5 L710.1,317.9 L710.6,318.8 L711.1,319 L711.6,316.2 L712.1,316.6 L712.6,317.1 L713.1,314.2 L713.6,314.3 L714.1,313.8 L714.6,314.8 L715.1,314.5 L715.6,313.9 L716.1,314.6 L716.6,315.8 L717.1,314.2 L717.6,315.9 L718.1,314.5 L718.6,314.5 L719.1,311.7 L719.6,312.1 L720.1,312.6 L720.7,310.3 L721.2,311.2 L721.7,311.3 L722.2,310.1 L722.8,311.3 L723.3,309.9 L723.8,310.4 L724.3,310.9 L724.8,312.1 L725.3,310.2 L725.8,313.2 L726.3,312.1 L726.8,313.1 L727.3,313 L727.8,314.8 L728.3,313.9 L728.8,316.7 L729.3,315.8 L729.9,316.2 L730.5,315.7 L731,317.1 L731.6,316.3 L732.2,316.6 L732.7,314.9 L733.2,315.8 L733.7,313 L734.2,314.6 L734.7,312.1 L735.2,312.1 L735.7,310.5 L736.2,309.6 L736.7,306.1 L737.2,310.9 L737.7,315.6 L738.2,319.6 L738.8,316.8 L739.3,313.6 L739.9,311.5 L740.4,310.6 L740.9,310 L741.4,311.9 L741.9,311.9 L742.4,312.6 L742.9,314.3 L743.4,313.6 L744,314.7 L744.5,317.2 L745.1,320.7 L745.7,322.5 L746.2,320.5 L746.8,319.9 L747.4,320.4 L747.9,320.3 L748.5,319.9 L749,321.4 L749.5,321.7 L750.1,323.3 L750.6,320.8 L751.1,318.1 L751.6,315.1 L752.2,315.3 L752.8,317.7 L753.3,318.4 L753.9,319.6 L754.5,317.2 L755,318.3 L755.5,314.9 L756.1,314.3 L756.7,314.9 L757.2,316.4 L757.8,319.7 L758.4,321 L759,320.3 L759.5,318.1 L760,315.2 L760.6,313.6 L761.1,314.4 L761.7,315.1 L762.2,318.5 L762.8,319.6 L763.3,320.3 L763.8,320.1 L764.3,321.5 L764.8,321.4 L765.3,323.3 L765.8,322.5 L766.3,323.1 L766.8,321.5 L767.3,323.4 L767.8,320.7 L768.3,322 L768.8,321.8 L769.3,321.9 L769.9,321.8 L770.5,321.6 L771,323.3 L771.6,324.7 L772.1,322.9 L772.7,325.1 L773.3,325.5 L773.8,326.2 L774.3,323.2 L774.8,322.7 L775.3,323.4 L775.8,322.4 L776.3,321.8 L776.8,322.1 L777.3,322.5 L777.8,320.4 L778.3,320.7 L778.8,320.5 L779.3,321 L780,316.6 L780.5,315.3 L781.1,318 L781.6,317.7 L782.1,317.6 L782.6,315.6 L783.2,318.2 L783.7,317.3 L784.2,317.8 L784.7,316.7 L785.2,317.3 L785.7,316.2 L786.2,315.2 L786.7,315.8 L787.2,314.7 L787.7,315.2 L788.2,314.7 L788.7,315.7 L789.2,317 L789.7,316.9 L790.2,317.4 L790.7,316.5 L791.2,317.2 L791.8,316 L792.3,316.9 L792.8,316.6 L793.4,317.8 L793.9,317 L794.4,316.3 L795,317.5 L795.5,317.2 L796.1,320 L796.7,319.1 L797.3,322.5 L797.9,322.7 L798.5,320.2 L799.1,319.8 L799.7,318.7 L800.3,318.4 L800.3,304.1 L800.9,301.3 L801.5,298.3 L802.1,294.1 L802.7,289.8 L803.3,285.7 L803.9,283.8 L804.5,278.6 L805.1,275.5 L805.7,274.1 L806.2,275.5 L806.8,274.1 L807.4,273.1 L808,272.5 L808.6,271.2 L809.2,270.9 L809.8,268.3 L810.3,267.7 L810.8,268.3 L811.3,267.3 L811.9,267.3 L812.4,265.5 L812.9,265.9 L813.4,264.7 L814,266.9 L814.7,268.1 L815.3,270.7 L815.9,268.9 L816.5,269.3 L817.1,266.7 L817.7,267.1 L818.2,258.2 L818.7,246.8 L819.3,243.4 L820,240.6 L820.6,239.7 L821.2,228.4 L821.8,219.4 L822.4,229 L823,236.1 L823.6,227.9 L824.2,220.6 L824.7,224.7 L825.3,229.5 L825.8,236.1 L826.4,228.4 L827.1,223.9 L827.7,217 L828.2,217.2 L828.7,217.2 L829.2,217.2 L829.8,215 L830.3,216.4 L830.8,215.6 L831.3,215.8 L831.9,221.8 L832.5,226.9 L833.1,232.2 L833.7,236.1 L834.3,232.7 L834.9,233 L835.5,231 L836.1,227.7 L836.7,229.6 L837.3,227.7 L837.9,228.6 L838.5,230.1 L839.1,226.9 L839.7,224.6 L840.3,224.9 L840.9,221.8 L841.4,225.5 L842,227.7 L842.5,230.1 L843.1,225.5 L843.8,219.4 L844.4,213.4 L845,215.2 L845.6,217 L846.2,219.4 L846.8,223 L847.3,223.9 L847.9,222.4 L848.4,222.9 L848.9,223.3 L849.5,222.2 L850,223.1 L850.5,223.3 L851.1,224.7 L851.6,224.2 L852.1,223.8 L852.7,223.7 L853.2,225.6 L853.7,224.2 L854.3,225.3 L854.8,224.6 L855.3,222.8 L855.9,223.9 L856.4,224.2 L856.9,224.4 L857.4,225.8 L857.9,224.9 L858.5,226.3 L859,226.2 L859.5,225.6 L860,226.8 L860.5,226.5 L861,222.8 L861.5,223.6 L862.1,220.3 L862.6,218.4 L863.1,218.5 L863.6,217.1 L864.2,218.3 L864.7,218.4 L865.2,214.9 L865.8,215.9 L866.3,215.4 L866.8,213.8 L867.3,213.1 L867.8,209.7 L868.3,209.1 L868.9,208.8 L869.4,208 L870,208.1 L870.5,204.9 L871,199 L871.5,195.5 L872,194.2 L872.5,189.7 L873.1,186.8 L873.6,185.1 L874.1,183.6 L874.6,180.9 L875.1,177.7 L875.6,176.8 L876.2,174.5 L876.7,170.1 L877.3,169.5 L877.8,166.5 L878.4,163.2 L879.1,168.8 L879.8,172.6 L880.4,177.2 L880.9,180.5 L881.5,185.1 L882,182 L882.5,179.3 L883,176.8 L883.7,171.5 L884.4,163.8 L885,177.4 L885.5,193.5 L886,215 L886.5,234.1 L887.1,221.9 L887.6,211.7 L888.2,201.8 L888.9,207.9 L889.6,215.4 L890.2,206.5 L890.7,195.2 L891.3,185.1 L891.8,182.9 L892.3,182.6 L892.9,178.8 L893.4,177.8 L893.9,179.3 L894.5,181 L895,183.3 L895.5,184.1 L896,182.8 L896.6,180.3 L897.1,177.8 L897.6,180.5 L898.1,183.5 L898.6,187.2 L899.1,186.5 L899.6,188.9 L900.2,188.7 L900.7,189.3 L901.2,188 L901.7,189.3 L902.2,187 L902.8,185.9 L903.3,183.2 L903.8,180.9 L904.3,178.4 L904.8,178 L905.3,177.9 L905.9,174.6 L906.4,173.1 L906.9,172.6 L907.4,173.6 L908,176.4 L908.5,178.4 L909,178.9 L909.5,177.6 L910.1,177.4 L910.6,177.5 L911.2,177.5 L911.7,177.8 L912.2,176.8 L912.7,174.7 L913.2,174.2 L913.7,172.7 L914.2,172.6 L914.7,171.9 L915.2,169.1 L915.8,165.1 L916.3,164.2 L916.8,164.6 L917.3,161 L917.9,160.8 L918.4,160.1 L918.9,163.6 L919.5,165.1 L920,167 L920.5,168.4 L921,167.7 L921.5,166.5 L922,167.3 L922.6,165.2 L923.1,164.9 L923.6,165.3 L924.1,165.3 L924.7,164.6 L925.2,166 L925.7,167.6 L926.3,167.6 L926.8,167.4 L927.3,167.1 L927.8,167.1 L928.3,166.2 L928.9,164.9 L929.4,166 L929.9,165.3 L930.4,163.6 L930.9,163.2 L931.5,162.3 L932,159.5 L932.5,158.5 L933,156.9 L933.5,156.9 L934,155.1 L934.6,153.8 L935.1,153.8 L935.6,155.3 L936.1,156.7 L936.7,157.2 L937.2,157.9 L937.7,159.2 L938.2,159 L938.7,161.1 L939.3,162.6 L939.8,163.6 L940.3,164.7 L940.9,167.2 L941.4,168.4 L941.9,165.9 L942.5,165.6 L943,165.3 L943.5,163.2 L944,152.4 L944.5,140.3 L945,138.9 L945.5,136.1 L946,134.8 L946.6,133.2 L947.1,131.9 L947.6,129.8 L948.1,130.1 L948.7,131.4 L949.2,132.7 L949.7,131 L950.3,132.9 L950.8,133 L951.3,133.7 L951.8,132.3 L952.3,132.4 L952.9,133.7 L953.4,130.7 L953.9,131.9 L954.4,132.2 L954.9,131.2 L955.5,133.3 L956,134 L956.5,132.9 L957,133 L957.5,135.2 L958,140 L958.6,143.2 L959.1,146.5 L959.6,145.6 L960.1,143.4 L960.7,142.2 L961.2,141.2 L961.7,138.7 L962.2,137.1 L962.7,135.3 L963.2,135.3 L963.8,131.6 L964.3,130.9 L964.9,128.7 L965.4,125 L966,122.5 L966.5,125.4 L967,125.6 L967.5,130.3 L968,130.5 L968.5,133 L969,129.6 L969.5,128.1 L970.1,126.4 L970.6,124.6 L971.1,123.3 L971.6,124.7 L972.2,124.9 L972.7,125.9 L973.2,125 L973.7,125.6 L974.2,123.6 L974.8,122.2 L975.3,122.4 L975.8,120.4 L976.3,123.3 L976.8,123.6 L977.4,124.3 L977.9,126.7 L978.4,132.3 L979,135.8 L979.5,139.9 L980,145.5 L980.7,150.6 L981.4,158 L981.9,153.1 L982.5,147.5 L983,141.2 L983.5,135.1 L984,141.3 L984.6,147.6 L985.2,164.2 L985.8,165 L986.3,179.5 L987,179.5 L987,503 L41,503 Z" fill="url(#g)"/>
<g>
<clipPath id="cc"><circle cx="867.2" cy="483.1" r="16.6"/></clipPath>
<circle cx="867.2" cy="483.1" r="16.6" fill="#f8f9f9" stroke="#e8eaea" stroke-width="1"/>
<path clip-path="url(#cc)" d="M855,501 C855,491 855.5,485 857.5,480.5 C859.5,476 863,474 867,474 C871,474 874,475.5 876.5,477.5 C878.5,479 879.5,481 878.8,483 C878,485 875.5,486 874,487 C872,490 870.8,494 870.5,501 Z" fill="#e6e8e8"/>
<path d="M868.5,486 C871,486.3 873.5,485.8 875.5,485" fill="none" stroke="#dcdede" stroke-width="0.8"/>
<circle cx="864.7" cy="479" r="3" fill="#fafafa"/>
<circle cx="864.7" cy="479" r="1.9" fill="#d6d8d8"/>
<circle cx="875.7" cy="482.3" r="0.8" fill="#fafafa"/>
<text x="890" y="487.5" font-size="17.2" fill="#cfd1d1" stroke="#cfd1d1" stroke-width="0.35" style="filter:grayscale(0)">CoinGecko</text>
</g>
<clipPath id="pc"><rect x="41" y="0" width="946" height="671"/></clipPath>
<path clip-path="url(#pc)" d="M41.2,400.4 L41.7,399.5 L42.2,398.6 L42.7,399.8 L43.2,397.7 L43.7,398.7 L44.2,398.2 L44.7,398.5 L45.3,398.4 L45.8,400.5 L46.3,399.8 L46.8,401.7 L47.4,401.4 L47.9,403.4 L48.4,402.3 L48.9,403.4 L49.4,404.8 L49.9,402.8 L50.4,403.2 L50.9,404.2 L51.4,404.8 L51.9,406 L52.4,405.2 L52.9,404.9 L53.4,406.9 L53.9,405.7 L54.5,403.4 L55,404.9 L55.5,402.2 L56.1,401.9 L56.6,402.4 L57.1,404 L57.6,406.2 L58.1,409.3 L58.6,409 L59.1,411.6 L59.6,412.1 L60.1,412.5 L60.6,412 L61.1,412.7 L61.6,411.5 L62.1,413.1 L62.7,410.7 L63.3,410.1 L63.9,410.5 L64.5,408.7 L65.1,407.9 L65.6,404.9 L66.2,403.3 L66.8,400.5 L67.3,398.2 L67.9,395.4 L68.5,394.6 L69.1,391.5 L69.7,393.1 L70.4,392.7 L71,394.5 L71.6,394.3 L72.2,393.8 L72.7,394.5 L73.3,393 L73.8,395.6 L74.3,396.1 L74.8,400 L75.3,399.3 L75.8,402.1 L76.3,404.2 L76.8,404.1 L77.3,401.4 L77.8,401.6 L78.3,399.4 L78.8,400.4 L79.3,399 L79.9,399 L80.5,397.7 L81,397.8 L81.6,395.4 L82.2,395.2 L82.8,395.6 L83.3,395.1 L83.9,394.9 L84.5,394.5 L85,391.7 L85.6,390.3 L86.2,388 L86.7,384 L87.3,385.2 L87.8,387.1 L88.4,386.7 L89,389.3 L89.6,389.6 L90.2,389.1 L90.7,389.9 L91.3,389.1 L91.9,387.8 L92.4,386.4 L92.9,386 L93.4,386.1 L93.9,383.4 L94.4,383.9 L94.9,383.3 L95.5,384 L96.1,385.5 L96.6,387 L97.2,390 L97.8,389.5 L98.3,386.3 L98.9,385.3 L99.4,384.8 L99.9,384.2 L100.4,385.4 L100.9,382.8 L101.4,383.6 L101.9,383.7 L102.4,383.3 L103,385.6 L103.5,386.5 L104,387.8 L104.6,387.8 L105.1,386.9 L105.6,387 L106.1,386.6 L106.6,387.9 L107.1,387.9 L107.6,385.2 L108.1,385 L108.6,385 L109.1,385.5 L109.6,385 L110.1,386.1 L110.6,386.8 L111.1,386.1 L111.6,385.7 L112.1,387.3 L112.6,387.4 L113.1,388.4 L113.6,388.5 L114.1,389.7 L114.6,388.7 L115.1,388 L115.6,388.2 L116.1,388.2 L116.6,386.2 L117.1,388.5 L117.6,388 L118.1,387 L118.6,388.1 L119.2,387.9 L119.8,386.7 L120.3,386.7 L120.8,385.8 L121.4,387.4 L122,385.7 L122.5,387 L123.1,386.3 L123.7,387.3 L124.2,387.7 L124.8,389.3 L125.3,388.4 L125.8,387.2 L126.3,386.7 L126.8,386.7 L127.3,386.2 L127.8,387 L128.3,387.7 L128.9,387.7 L129.4,391.3 L129.9,391.6 L130.4,391.3 L131,392.7 L131.5,394.5 L132,393.7 L132.5,393.3 L133,392.2 L133.5,394 L134,394.1 L134.5,392.2 L135,391.5 L135.5,390.9 L136,389.1 L136.5,388.5 L137,388.6 L137.5,388.5 L138.1,388 L138.7,389.8 L139.2,388 L139.8,387.7 L140.4,389.3 L140.9,390.7 L141.4,389.4 L141.9,388.2 L142.4,389.4 L142.9,387.9 L143.4,389.3 L143.9,390.9 L144.4,393.7 L144.9,394.8 L145.4,395.8 L145.9,396 L146.4,398.2 L146.9,398.8 L147.4,399.2 L147.9,402 L148.4,402.3 L148.9,404 L149.4,404.2 L149.9,402.9 L150.4,401.9 L150.9,402.9 L151.4,402.7 L151.9,401.5 L152.4,399.7 L152.9,400.5 L153.4,400.4 L153.9,400.1 L154.4,398.4 L154.9,399.2 L155.4,399 L155.9,396.9 L156.5,394.2 L157.1,392.5 L157.6,392.2 L158.1,391.4 L158.6,391.2 L159.1,392.4 L159.6,393.1 L160.1,391.5 L160.6,391.5 L161.2,392.1 L161.7,391.5 L162.2,390.6 L162.8,388.5 L163.3,388.6 L163.8,388.7 L164.3,389.2 L164.8,389.6 L165.3,390.1 L165.8,391.5 L166.3,392.5 L166.8,393.9 L167.3,394.4 L167.8,393.9 L168.3,395 L168.8,395.2 L169.4,396.8 L169.9,395.5 L170.4,397.9 L171,398.2 L171.5,399.3 L172,398.8 L172.5,398.6 L173,397.7 L173.5,396.7 L174,397.5 L174.5,398.6 L175,397.5 L175.5,399.2 L176,399.9 L176.5,398.4 L177,399 L177.6,397.4 L178.2,397.7 L178.7,395.7 L179.3,393.7 L180,397.2 L180.7,402.7 L181.2,401.7 L181.7,401.9 L182.2,404.3 L182.7,404.1 L183.2,402.2 L183.7,403.4 L184.2,404.7 L184.8,405.4 L185.3,404.7 L185.9,404.1 L186.4,405 L187,404 L187.5,405.4 L188,403 L188.6,404.9 L189.1,403 L189.6,401.7 L190.1,401.9 L190.7,399.5 L191.2,398.7 L191.7,400.2 L192.3,400.5 L192.8,399.1 L193.3,399.6 L193.8,400.2 L194.4,400.4 L194.9,401.6 L195.4,401.1 L196,399.4 L196.5,399.1 L197.1,397.5 L197.6,399.1 L198.2,396.7 L198.7,396.4 L199.2,396.5 L199.8,397.1 L200.3,398.3 L200.8,397 L201.3,398.7 L201.9,397.7 L202.4,397.9 L202.9,398.3 L203.5,398.6 L204,397.4 L204.5,399 L205,398.5 L205.6,398.3 L206.1,400.1 L206.6,400.6 L207.2,398.3 L207.7,398.8 L208.3,399.1 L208.8,398.2 L209.4,397.1 L209.9,397.2 L210.5,396.8 L211.1,396.4 L211.6,396.7 L212.2,394.2 L212.8,394.9 L213.4,392.7 L213.9,389.3 L214.5,387 L215.1,385.2 L215.6,382.1 L216.1,377.3 L216.6,373.3 L217.1,372.7 L217.6,372.6 L218.1,372.3 L218.6,370.1 L219.1,369.9 L219.6,368.8 L220.2,369.6 L220.8,370.3 L221.3,371.6 L221.9,371.6 L222.5,372.5 L223.1,373.7 L223.7,374.7 L224.2,377.2 L224.8,377 L225.3,377 L225.8,376.9 L226.3,376.5 L226.8,373.8 L227.3,374.1 L227.8,373.3 L228.4,374.6 L229,374.3 L229.5,372.2 L230.1,372.2 L230.7,373.3 L231.2,380.6 L231.7,387 L232.2,395.7 L232.7,396.4 L233.2,397.4 L233.7,400.1 L234.3,399.3 L234.8,398.4 L235.4,397.4 L236,394.9 L236.5,393.5 L237,394.8 L237.5,394.3 L238,392.4 L238.5,394.2 L239,392.7 L239.7,395.2 L240.4,394.9 L240.9,392.2 L241.4,392.5 L241.9,389 L242.4,387.4 L242.9,387 L243.4,383.7 L243.9,384.2 L244.4,381.7 L244.9,382 L245.4,381.7 L245.9,380.7 L246.4,380.7 L246.9,382.8 L247.4,386.2 L247.9,389.7 L248.4,389.4 L248.9,386.3 L249.4,386.9 L249.9,385.5 L250.4,383.3 L250.9,383.7 L251.4,384.3 L252,386.2 L252.5,387 L253,386.7 L253.5,390.5 L254.1,391 L254.6,391.2 L255.1,391.4 L255.6,387.5 L256.1,386.7 L256.6,384.8 L257.1,385.8 L257.6,383.7 L258.1,384 L258.6,384.6 L259.1,386.5 L259.6,388.9 L260.1,389.7 L260.6,389.7 L261.1,388.6 L261.6,387.8 L262.1,389.7 L262.6,388.3 L263.1,388.2 L263.6,386 L264.1,385.5 L264.6,387 L265.1,386 L265.6,385.6 L266.1,384.4 L266.6,386.8 L267.1,385.7 L267.6,386.1 L268.1,383.8 L268.6,385.9 L269.1,383.4 L269.6,384.5 L270.2,385.3 L270.7,383.8 L271.2,383.2 L271.8,383.5 L272.4,384.3 L272.9,382.1 L273.4,381.4 L274,382.2 L274.5,382.5 L275,381.9 L275.5,381.8 L276,382.2 L276.5,382.1 L277,383.7 L277.5,383.9 L278,385.4 L278.5,386.5 L279,388.9 L279.5,388.7 L280,390.4 L280.5,389.8 L281,388.2 L281.5,388.1 L282,386.5 L282.5,386.6 L283,386.7 L283.5,381.8 L284,380.5 L284.5,376.3 L285.1,371.8 L285.6,366 L286.1,362.2 L286.7,357.6 L287.3,359.1 L287.9,356.8 L288.4,359.2 L289,358.4 L289.6,358.9 L290.1,359.8 L290.6,361.6 L291.2,361.3 L291.7,361.3 L292.3,362 L292.8,362.8 L293.3,364.1 L293.8,362.5 L294.4,364.3 L294.9,363.6 L295.5,363.1 L296,361.8 L296.6,359.9 L297.2,359.1 L297.7,362.9 L298.2,366.2 L298.7,371.8 L299.2,369.2 L299.8,367.5 L300.3,368 L300.9,365.8 L301.4,365.8 L301.9,366.3 L302.4,366.8 L302.9,369.8 L303.4,370.7 L303.9,370.3 L304.4,373.5 L304.9,375.1 L305.4,378.5 L305.9,373.6 L306.5,369.7 L307.1,366.1 L307.6,362.1 L308.2,360.3 L308.8,360.4 L309.3,359.1 L309.9,359.1 L310.5,362.3 L311.1,364.1 L311.6,364.6 L312.2,365.5 L312.8,368.1 L313.4,366.7 L314,361.9 L314.5,359.3 L315.1,356.9 L315.6,351.2 L316.1,348.1 L316.6,344.2 L317.1,351.3 L317.6,358.6 L318.1,365.8 L318.6,363.4 L319.1,362.8 L319.6,361.3 L320.2,360.9 L320.7,362.8 L321.2,363.4 L321.8,365.8 L322.3,365.8 L322.9,365.1 L323.4,365.4 L323.9,366.5 L324.4,366.6 L325,368 L325.5,368.1 L326.1,369.9 L326.6,372.2 L327.2,373.6 L327.8,374.8 L328.5,389.7 L329,389.5 L329.5,389.2 L330,387.3 L330.5,390.5 L331,393.8 L331.5,397.8 L332,398.4 L332.5,395 L333,395.8 L333.5,394.7 L334,392 L334.5,392.5 L335.1,394.5 L335.6,395.6 L336.1,395.7 L336.7,396.3 L337.3,396.4 L337.9,396.1 L338.4,393.5 L339,394 L339.6,394.4 L340.1,394.8 L340.6,396.1 L341.2,396.4 L341.8,396.9 L342.3,396.5 L342.8,397.8 L343.4,397 L344,396.8 L344.5,396.1 L345.1,393.9 L345.7,394 L346.2,392.7 L346.8,393.1 L347.3,393.9 L347.8,393.3 L348.3,395.6 L348.9,394.9 L349.4,394.8 L349.9,396.9 L350.4,398.6 L350.9,400.5 L351.4,401.7 L351.9,402 L352.4,405.2 L352.9,403.9 L353.5,401.5 L354.1,398.5 L354.6,396.3 L355.1,397 L355.7,398 L356.2,396.9 L356.8,399.5 L357.3,398.7 L357.9,398.8 L358.4,400.7 L358.9,398.5 L359.5,398.4 L360.1,395.4 L360.6,394.8 L361.1,396 L361.6,397.2 L362.1,396.3 L362.6,396.4 L363.1,397.2 L363.6,397.8 L364.1,397.9 L364.7,397.7 L365.2,396.9 L365.7,396.5 L366.2,394.4 L366.8,394.2 L367.3,394.8 L367.9,394.4 L368.5,396.3 L369,395.3 L369.6,396.3 L370.2,395.3 L370.8,392.4 L371.3,391.4 L371.9,390.8 L372.5,390.3 L373,391.6 L373.6,392.4 L374.1,393.1 L374.7,392.6 L375.2,394.1 L375.8,394.7 L376.3,395.5 L376.9,396 L377.4,395.5 L377.9,398.4 L378.5,396.8 L379.1,399.7 L379.6,400.2 L380.1,398 L380.7,400 L381.2,399.4 L381.7,400 L382.2,399.9 L382.7,397.8 L383.2,396.8 L383.7,397 L384.2,395.9 L384.8,397.9 L385.3,395.5 L385.9,396.4 L386.4,394.9 L387,395.8 L387.5,395.5 L388.1,397.3 L388.7,395.3 L389.2,397.8 L389.8,397.4 L390.4,397.8 L390.9,403.9 L391.4,408.3 L391.9,412.7 L392.5,411.5 L393,413.1 L393.6,411.5 L394.2,411.2 L394.7,409.3 L395.2,408.7 L395.7,409.7 L396.2,409.1 L396.7,408.1 L397.2,408.2 L397.8,407.3 L398.3,408.1 L398.8,408.2 L399.4,409 L399.9,412.2 L400.5,412 L401.1,416.4 L401.6,417.9 L402.1,414.7 L402.6,408.3 L403.1,405.2 L403.6,406.7 L404.1,406.3 L404.6,407.2 L405.1,405.6 L405.6,406.1 L406.1,406.7 L406.6,406.5 L407.1,408.4 L407.6,407.2 L408.1,406.6 L408.6,406.9 L409.1,406.6 L409.6,406 L410.1,406.2 L410.6,407.5 L411.1,408.2 L411.6,406.3 L412.1,408 L412.6,405.7 L413.1,405.5 L413.6,406 L414.1,404.8 L414.6,405.1 L415.1,405.2 L415.6,406.7 L416.1,406.5 L416.6,406.4 L417.1,405.9 L417.6,406.9 L418.1,407.1 L418.6,406 L419.1,406.6 L419.6,406 L420.2,404.3 L420.7,405.9 L421.2,404.7 L421.8,404.5 L422.3,405.5 L422.9,405.4 L423.4,404.5 L423.9,404 L424.4,406.9 L425,404.7 L425.5,406 L426.1,408 L426.6,409.6 L427.2,411.5 L427.8,414.2 L428.3,414.8 L428.9,415.4 L429.4,413.1 L429.9,414.2 L430.4,413 L431,413.7 L431.5,413.4 L432,413.7 L432.5,413.7 L433,414.3 L433.5,415.1 L434,417.8 L434.5,417.2 L435,419.7 L435.5,421.3 L436,424.6 L436.5,425.2 L437,424.9 L437.5,422.6 L438,421.1 L438.5,420.6 L439,420.9 L439.6,421.9 L440.2,424.9 L440.7,426.4 L441.3,429.1 L441.9,432.1 L442.4,430.5 L442.9,430.6 L443.4,430.7 L443.9,429.4 L444.4,427.5 L444.9,426.9 L445.5,424.8 L446,423.2 L446.6,420.9 L447.2,419.4 L447.7,420.4 L448.2,421.1 L448.7,423.9 L449.3,421.9 L449.9,422.6 L450.4,418.8 L451,418.6 L451.6,417.2 L452.1,418.3 L452.6,419.8 L453.1,418.6 L453.6,419.5 L454.1,420.2 L454.6,421.4 L455.1,422.2 L455.6,424.5 L456.1,423.9 L456.7,423.8 L457.2,422.8 L457.8,419.1 L458.4,419.4 L458.9,418.1 L459.5,420.2 L460.1,420.8 L460.6,419.7 L461.1,420.1 L461.7,418.4 L462.2,419.7 L462.8,420.1 L463.3,422 L463.8,422.3 L464.3,423.1 L464.8,424.1 L465.3,422.5 L465.8,423.9 L466.3,422.2 L466.8,421.9 L467.3,422.5 L467.8,422.4 L468.3,422.7 L468.8,420.9 L469.4,421.4 L469.9,420.9 L470.4,421.1 L471,420.1 L471.6,417.4 L472.1,415.1 L472.7,410.9 L473.3,409.7 L473.9,408.7 L474.4,405.1 L474.9,405.3 L475.5,402.2 L476,403 L476.6,402.3 L477.1,402.1 L477.7,402.8 L478.2,404.3 L478.8,404.8 L479.3,404.5 L479.9,403.9 L480.5,404.4 L481,406.3 L481.6,407.1 L482.2,407.4 L482.7,406.6 L483.3,405.7 L483.8,406.4 L484.4,404.2 L484.9,404.6 L485.5,404.6 L486,404.3 L486.5,405.3 L487,404 L487.5,404.4 L488,402.8 L488.5,401.7 L489,402.1 L489.6,400 L490.1,400.9 L490.6,398.8 L491.2,396.9 L491.7,396.6 L492.2,396 L492.7,397.6 L493.2,398.4 L493.7,397.9 L494.2,398.4 L494.7,398.6 L495.3,400.8 L495.8,402.5 L496.3,401.4 L496.8,401.8 L497.4,403.7 L497.9,405.1 L498.4,404.2 L498.9,404.4 L499.4,402.3 L499.9,403.5 L500.4,402.7 L500.9,401.3 L501.4,401.3 L501.9,400.4 L502.4,402.7 L502.9,400.7 L503.4,402.3 L503.9,401.3 L504.4,401.1 L505,401.6 L505.6,403.8 L506.1,403.6 L506.9,393.1 L507.4,391.9 L508,393.4 L508.6,391.4 L509.1,390 L509.6,389.5 L510.2,389.6 L510.8,389.7 L511.3,388.7 L511.9,390.2 L512.4,388 L513,388.9 L513.5,388.5 L514.1,391 L514.7,388.7 L515.2,388.6 L515.8,390.1 L516.3,388.5 L516.8,389.3 L517.3,390.6 L517.8,390.3 L518.3,389.6 L518.8,388.7 L519.3,391.9 L519.9,393.3 L520.5,393.2 L521,395.4 L521.5,394.3 L522,396.4 L522.5,395.7 L523,393.5 L523.5,395.2 L524,394.6 L524.5,395.7 L525,397.2 L525.5,399.1 L526.1,396 L526.6,392.9 L527.2,389.8 L527.8,388.7 L528.3,389.9 L528.9,392 L529.5,395.6 L530,396.1 L530.5,396.6 L531.1,400.8 L531.7,400.2 L532.2,402.8 L532.7,402.2 L533.3,403.3 L533.8,403.1 L534.4,401.7 L534.9,400.4 L535.5,401.4 L536,401.3 L536.5,399.7 L537.1,400.2 L537.6,396.9 L538.1,396.2 L538.6,396.6 L539.2,392.9 L539.7,393.1 L540.2,392.9 L540.7,394.2 L541.2,394.2 L541.7,392.1 L542.2,392.1 L542.7,392.3 L543.2,395 L543.7,393.1 L544.2,393.9 L544.7,395.1 L545.2,396.1 L545.7,394.9 L546.2,395.2 L546.7,397.8 L547.2,396.9 L547.8,396.1 L548.3,393.9 L548.9,394.2 L549.4,392.4 L549.9,391.9 L550.5,391.9 L551,391.2 L551.5,393.6 L552,394.1 L552.6,393.4 L553.1,393.1 L553.6,394.5 L554.1,391.9 L554.6,392.6 L555.1,393.4 L555.6,394.9 L556.1,395 L556.6,393.4 L557.1,393.1 L557.6,393.9 L558.1,393.6 L558.6,393.6 L559.1,394.8 L559.6,392.4 L560.1,394.1 L560.6,393.1 L561.1,394.1 L561.6,394.6 L562.1,394.7 L562.6,394.4 L563.1,393.9 L563.6,394.1 L564.1,394.5 L564.6,396 L565.1,395.4 L565.6,393.9 L566.1,394 L566.6,395.4 L567.1,393.6 L567.6,392.8 L568.1,393.9 L568.7,392.9 L569.3,394.9 L569.8,394.7 L570.4,397.1 L571,396.1 L571.6,398.2 L572.1,399.5 L572.7,398.2 L573.3,399.9 L573.8,397.8 L574.3,396.9 L574.8,397.2 L575.3,397 L575.8,395.3 L576.3,394.6 L576.8,392.7 L577.4,392.1 L578,391.6 L578.5,390.1 L579,392.6 L579.5,394.8 L580,396.1 L580.5,398.1 L581.1,398.5 L581.7,397.8 L582.2,399.9 L582.7,400.3 L583.2,398 L583.7,398.2 L584.2,397 L584.7,397.4 L585.2,396.1 L585.7,395.1 L586.2,395.1 L586.7,395 L587.2,394.6 L587.7,396.7 L588.2,395.4 L588.7,395.1 L589.2,393.9 L589.7,393.6 L590.2,394.9 L590.7,392.9 L591.2,392.4 L591.7,391.8 L592.3,393.8 L592.8,393.5 L593.3,394.7 L593.8,392.3 L594.4,393.6 L594.9,393.9 L595.4,395.1 L595.9,395.4 L596.4,395.9 L596.9,393.5 L597.4,394.5 L597.9,395.4 L598.4,393.9 L598.9,393.7 L599.4,395.7 L599.9,394.1 L600.4,394.8 L600.9,393.1 L601.4,390.3 L601.9,389.3 L602.4,385.7 L603,384 L603.5,382 L604,382 L604.6,379.7 L605.1,381.2 L605.6,378.8 L606.1,380.3 L606.6,380.5 L607.1,379.4 L607.6,380.4 L608.2,379.7 L608.8,378.6 L609.3,378.5 L609.9,379 L610.6,375.3 L611.3,373 L611.8,373.3 L612.4,373.5 L612.9,372.1 L613.5,371.5 L614,372.5 L614.6,373.5 L615.1,373 L615.6,369.3 L616.1,367 L616.6,364.8 L617.1,363.5 L617.7,364.9 L618.2,363.8 L618.8,363.3 L619.3,359.7 L619.9,357.6 L620.5,356.2 L621,354.3 L621.5,354.3 L622,354.5 L622.5,352.7 L623,352.8 L623.5,354.3 L624,353.6 L624.5,353.7 L625,353.7 L625.5,354.1 L626,356.4 L626.5,354.9 L627,355.8 L627.5,356.5 L628,356.3 L628.5,356.9 L629,358.8 L629.5,359.6 L630,358.6 L630.5,357.5 L631,356.3 L631.5,357.2 L632,355 L632.5,353.7 L633,354.5 L633.5,354 L634,350.9 L634.5,349.4 L635,350.7 L635.6,349.9 L636.2,351.7 L636.7,350.9 L637.5,345.7 L638.1,346 L638.7,345.6 L639.2,345.6 L639.8,347.6 L640.4,347.9 L640.9,348.4 L641.5,349.4 L642,347 L642.6,348.7 L643.1,348.1 L643.7,348.6 L644.2,348.7 L644.8,346.7 L645.3,346.1 L645.9,345.9 L646.4,344.9 L647,346.9 L647.5,345.2 L648.1,347.1 L648.7,347.9 L649.3,349.3 L649.9,350.2 L650.4,348.3 L651,348.5 L651.6,350.1 L652.1,345.5 L652.6,339.6 L653.1,332.2 L653.6,331.9 L654.1,330.4 L654.6,332.7 L655.1,330.9 L655.6,332.2 L656.1,330.7 L656.6,331.3 L657.1,332.2 L657.6,330.4 L658.1,332.6 L658.6,331.1 L659.1,332.2 L659.6,331.2 L660.2,331.8 L660.8,331 L661.3,329.3 L661.8,330.8 L662.3,333.4 L662.8,336.7 L663.3,338.9 L663.8,341.8 L664.3,344.2 L664.9,342.2 L665.5,339.7 L666,338.4 L666.6,337.5 L667.1,337.9 L667.6,338.2 L668.1,335.4 L668.6,336.7 L669.1,337 L669.6,336 L670.3,333.1 L671,333 L671.8,318.1 L672.3,318.2 L672.9,315.1 L673.5,315.5 L674,314.3 L674.5,315.2 L675,316.2 L675.5,316.6 L676.1,314.3 L676.6,313 L677.2,311.8 L677.8,309.9 L678.4,310.3 L679,311.5 L679.5,311.5 L680.1,312 L680.7,312.8 L681.3,310.4 L681.9,311.3 L682.4,310 L683,309.1 L683.5,307.8 L684,308.9 L684.5,307.6 L685,309.8 L685.5,310.2 L686,310.7 L686.5,313 L687,313.3 L687.5,315.8 L688,313.6 L688.6,313.3 L689.2,311.2 L689.7,311.3 L690.2,311.9 L690.8,312.8 L691.4,312.2 L691.9,314.3 L692.5,313.8 L693,311.2 L693.6,312.2 L694.2,310.6 L694.8,312.6 L695.3,312.9 L695.9,312.6 L696.4,315.1 L696.9,314.6 L697.4,313.7 L697.9,315 L698.4,312 L698.9,313.7 L699.4,312.1 L699.9,313.9 L700.5,313.4 L701,314 L701.5,312.4 L702,315.1 L702.6,314 L703.1,314.3 L703.7,317.9 L704.2,320 L704.8,320 L705.4,323.3 L706,322.7 L706.5,321.6 L707,317.5 L707.6,317.3 L708.1,317.1 L708.6,318.6 L709.1,317 L709.6,319.5 L710.1,317.9 L710.6,318.8 L711.1,319 L711.6,316.2 L712.1,316.6 L712.6,317.1 L713.1,314.2 L713.6,314.3 L714.1,313.8 L714.6,314.8 L715.1,314.5 L715.6,313.9 L716.1,314.6 L716.6,315.8 L717.1,314.2 L717.6,315.9 L718.1,314.5 L718.6,314.5 L719.1,311.7 L719.6,312.1 L720.1,312.6 L720.7,310.3 L721.2,311.2 L721.7,311.3 L722.2,310.1 L722.8,311.3 L723.3,309.9 L723.8,310.4 L724.3,310.9 L724.8,312.1 L725.3,310.2 L725.8,313.2 L726.3,312.1 L726.8,313.1 L727.3,313 L727.8,314.8 L728.3,313.9 L728.8,316.7 L729.3,315.8 L729.9,316.2 L730.5,315.7 L731,317.1 L731.6,316.3 L732.2,316.6 L732.7,314.9 L733.2,315.8 L733.7,313 L734.2,314.6 L734.7,312.1 L735.2,312.1 L735.7,310.5 L736.2,309.6 L736.7,306.1 L737.2,310.9 L737.7,315.6 L738.2,319.6 L738.8,316.8 L739.3,313.6 L739.9,311.5 L740.4,310.6 L740.9,310 L741.4,311.9 L741.9,311.9 L742.4,312.6 L742.9,314.3 L743.4,313.6 L744,314.7 L744.5,317.2 L745.1,320.7 L745.7,322.5 L746.2,320.5 L746.8,319.9 L747.4,320.4 L747.9,320.3 L748.5,319.9 L749,321.4 L749.5,321.7 L750.1,323.3 L750.6,320.8 L751.1,318.1 L751.6,315.1 L752.2,315.3 L752.8,317.7 L753.3,318.4 L753.9,319.6 L754.5,317.2 L755,318.3 L755.5,314.9 L756.1,314.3 L756.7,314.9 L757.2,316.4 L757.8,319.7 L758.4,321 L759,320.3 L759.5,318.1 L760,315.2 L760.6,313.6 L761.1,314.4 L761.7,315.1 L762.2,318.5 L762.8,319.6 L763.3,320.3 L763.8,320.1 L764.3,321.5 L764.8,321.4 L765.3,323.3 L765.8,322.5 L766.3,323.1 L766.8,321.5 L767.3,323.4 L767.8,320.7 L768.3,322 L768.8,321.8 L769.3,321.9 L769.9,321.8 L770.5,321.6 L771,323.3 L771.6,324.7 L772.1,322.9 L772.7,325.1 L773.3,325.5 L773.8,326.2 L774.3,323.2 L774.8,322.7 L775.3,323.4 L775.8,322.4 L776.3,321.8 L776.8,322.1 L777.3,322.5 L777.8,320.4 L778.3,320.7 L778.8,320.5 L779.3,321 L780,316.6 L780.5,315.3 L781.1,318 L781.6,317.7 L782.1,317.6 L782.6,315.6 L783.2,318.2 L783.7,317.3 L784.2,317.8 L784.7,316.7 L785.2,317.3 L785.7,316.2 L786.2,315.2 L786.7,315.8 L787.2,314.7 L787.7,315.2 L788.2,314.7 L788.7,315.7 L789.2,317 L789.7,316.9 L790.2,317.4 L790.7,316.5 L791.2,317.2 L791.8,316 L792.3,316.9 L792.8,316.6 L793.4,317.8 L793.9,317 L794.4,316.3 L795,317.5 L795.5,317.2 L796.1,320 L796.7,319.1 L797.3,322.5 L797.9,322.7 L798.5,320.2 L799.1,319.8 L799.7,318.7 L800.3,318.4 L800.3,304.1 L800.9,301.3 L801.5,298.3 L802.1,294.1 L802.7,289.8 L803.3,285.7 L803.9,283.8 L804.5,278.6 L805.1,275.5 L805.7,274.1 L806.2,275.5 L806.8,274.1 L807.4,273.1 L808,272.5 L808.6,271.2 L809.2,270.9 L809.8,268.3 L810.3,267.7 L810.8,268.3 L811.3,267.3 L811.9,267.3 L812.4,265.5 L812.9,265.9 L813.4,264.7 L814,266.9 L814.7,268.1 L815.3,270.7 L815.9,268.9 L816.5,269.3 L817.1,266.7 L817.7,267.1 L818.2,258.2 L818.7,246.8 L819.3,243.4 L820,240.6 L820.6,239.7 L821.2,228.4 L821.8,219.4 L822.4,229 L823,236.1 L823.6,227.9 L824.2,220.6 L824.7,224.7 L825.3,229.5 L825.8,236.1 L826.4,228.4 L827.1,223.9 L827.7,217 L828.2,217.2 L828.7,217.2 L829.2,217.2 L829.8,215 L830.3,216.4 L830.8,215.6 L831.3,215.8 L831.9,221.8 L832.5,226.9 L833.1,232.2 L833.7,236.1 L834.3,232.7 L834.9,233 L835.5,231 L836.1,227.7 L836.7,229.6 L837.3,227.7 L837.9,228.6 L838.5,230.1 L839.1,226.9 L839.7,224.6 L840.3,224.9 L840.9,221.8 L841.4,225.5 L842,227.7 L842.5,230.1 L843.1,225.5 L843.8,219.4 L844.4,213.4 L845,215.2 L845.6,217 L846.2,219.4 L846.8,223 L847.3,223.9 L847.9,222.4 L848.4,222.9 L848.9,223.3 L849.5,222.2 L850,223.1 L850.5,223.3 L851.1,224.7 L851.6,224.2 L852.1,223.8 L852.7,223.7 L853.2,225.6 L853.7,224.2 L854.3,225.3 L854.8,224.6 L855.3,222.8 L855.9,223.9 L856.4,224.2 L856.9,224.4 L857.4,225.8 L857.9,224.9 L858.5,226.3 L859,226.2 L859.5,225.6 L860,226.8 L860.5,226.5 L861,222.8 L861.5,223.6 L862.1,220.3 L862.6,218.4 L863.1,218.5 L863.6,217.1 L864.2,218.3 L864.7,218.4 L865.2,214.9 L865.8,215.9 L866.3,215.4 L866.8,213.8 L867.3,213.1 L867.8,209.7 L868.3,209.1 L868.9,208.8 L869.4,208 L870,208.1 L870.5,204.9 L871,199 L871.5,195.5 L872,194.2 L872.5,189.7 L873.1,186.8 L873.6,185.1 L874.1,183.6 L874.6,180.9 L875.1,177.7 L875.6,176.8 L876.2,174.5 L876.7,170.1 L877.3,169.5 L877.8,166.5 L878.4,163.2 L879.1,168.8 L879.8,172.6 L880.4,177.2 L880.9,180.5 L881.5,185.1 L882,182 L882.5,179.3 L883,176.8 L883.7,171.5 L884.4,163.8 L885,177.4 L885.5,193.5 L886,215 L886.5,234.1 L887.1,221.9 L887.6,211.7 L888.2,201.8 L888.9,207.9 L889.6,215.4 L890.2,206.5 L890.7,195.2 L891.3,185.1 L891.8,182.9 L892.3,182.6 L892.9,178.8 L893.4,177.8 L893.9,179.3 L894.5,181 L895,183.3 L895.5,184.1 L896,182.8 L896.6,180.3 L897.1,177.8 L897.6,180.5 L898.1,183.5 L898.6,187.2 L899.1,186.5 L899.6,188.9 L900.2,188.7 L900.7,189.3 L901.2,188 L901.7,189.3 L902.2,187 L902.8,185.9 L903.3,183.2 L903.8,180.9 L904.3,178.4 L904.8,178 L905.3,177.9 L905.9,174.6 L906.4,173.1 L906.9,172.6 L907.4,173.6 L908,176.4 L908.5,178.4 L909,178.9 L909.5,177.6 L910.1,177.4 L910.6,177.5 L911.2,177.5 L911.7,177.8 L912.2,176.8 L912.7,174.7 L913.2,174.2 L913.7,172.7 L914.2,172.6 L914.7,171.9 L915.2,169.1 L915.8,165.1 L916.3,164.2 L916.8,164.6 L917.3,161 L917.9,160.8 L918.4,160.1 L918.9,163.6 L919.5,165.1 L920,167 L920.5,168.4 L921,167.7 L921.5,166.5 L922,167.3 L922.6,165.2 L923.1,164.9 L923.6,165.3 L924.1,165.3 L924.7,164.6 L925.2,166 L925.7,167.6 L926.3,167.6 L926.8,167.4 L927.3,167.1 L927.8,167.1 L928.3,166.2 L928.9,164.9 L929.4,166 L929.9,165.3 L930.4,163.6 L930.9,163.2 L931.5,162.3 L932,159.5 L932.5,158.5 L933,156.9 L933.5,156.9 L934,155.1 L934.6,153.8 L935.1,153.8 L935.6,155.3 L936.1,156.7 L936.7,157.2 L937.2,157.9 L937.7,159.2 L938.2,159 L938.7,161.1 L939.3,162.6 L939.8,163.6 L940.3,164.7 L940.9,167.2 L941.4,168.4 L941.9,165.9 L942.5,165.6 L943,165.3 L943.5,163.2 L944,152.4 L944.5,140.3 L945,138.9 L945.5,136.1 L946,134.8 L946.6,133.2 L947.1,131.9 L947.6,129.8 L948.1,130.1 L948.7,131.4 L949.2,132.7 L949.7,131 L950.3,132.9 L950.8,133 L951.3,133.7 L951.8,132.3 L952.3,132.4 L952.9,133.7 L953.4,130.7 L953.9,131.9 L954.4,132.2 L954.9,131.2 L955.5,133.3 L956,134 L956.5,132.9 L957,133 L957.5,135.2 L958,140 L958.6,143.2 L959.1,146.5 L959.6,145.6 L960.1,143.4 L960.7,142.2 L961.2,141.2 L961.7,138.7 L962.2,137.1 L962.7,135.3 L963.2,135.3 L963.8,131.6 L964.3,130.9 L964.9,128.7 L965.4,125 L966,122.5 L966.5,125.4 L967,125.6 L967.5,130.3 L968,130.5 L968.5,133 L969,129.6 L969.5,128.1 L970.1,126.4 L970.6,124.6 L971.1,123.3 L971.6,124.7 L972.2,124.9 L972.7,125.9 L973.2,125 L973.7,125.6 L974.2,123.6 L974.8,122.2 L975.3,122.4 L975.8,120.4 L976.3,123.3 L976.8,123.6 L977.4,124.3 L977.9,126.7 L978.4,132.3 L979,135.8 L979.5,139.9 L980,145.5 L980.7,150.6 L981.4,158 L981.9,153.1 L982.5,147.5 L983,141.2 L983.5,135.1 L984,141.3 L984.6,147.6 L985.2,164.2 L985.8,165 L986.3,179.5" fill="none" stroke="#00a83e" stroke-width="2.7" stroke-linejoin="round" stroke-linecap="round"/>
<rect x="41" y="623.6" width="946" height="1" fill="#eef1f4"/>
<rect x="130" y="624" width="1" height="11" fill="#e3e7ec"/>
<rect x="277" y="624" width="1" height="11" fill="#e3e7ec"/>
<rect x="424" y="624" width="1" height="11" fill="#e3e7ec"/>
<rect x="572" y="624" width="1" height="11" fill="#e3e7ec"/>
<rect x="719" y="624" width="1" height="11" fill="#e3e7ec"/>
<rect x="865" y="624" width="1" height="11" fill="#e3e7ec"/>
<g font-size="15.3" fill="#58667e" style="filter:grayscale(0)">
<text x="1006.6" y="61.8" font-size="15.6">$80K</text>
<text x="1006.6" y="151.8" font-size="15.6">$70K</text>
<text x="1006.6" y="239.8" font-size="15.6">$60K</text>
<text x="1006.6" y="330.0" font-size="15.6">$50K</text>
<text x="1006.6" y="419.4" font-size="15.6">$40K</text>
<text x="1006.6" y="508.9" font-size="15.6">$30K</text>
<text x="130.4" y="647.1" text-anchor="middle">25. Dec</text>
<text x="276.8" y="647.1" text-anchor="middle">8. Jan</text>
<text x="424.1" y="647.1" text-anchor="middle">22. Jan</text>
<text x="571.5" y="647.1" text-anchor="middle">5. Feb</text>
<text x="719.1" y="647.1" text-anchor="middle">19. Feb</text>
<text x="865.3" y="647.1" text-anchor="middle">4. Mar</text>
</g>
</svg>
</body></html>
